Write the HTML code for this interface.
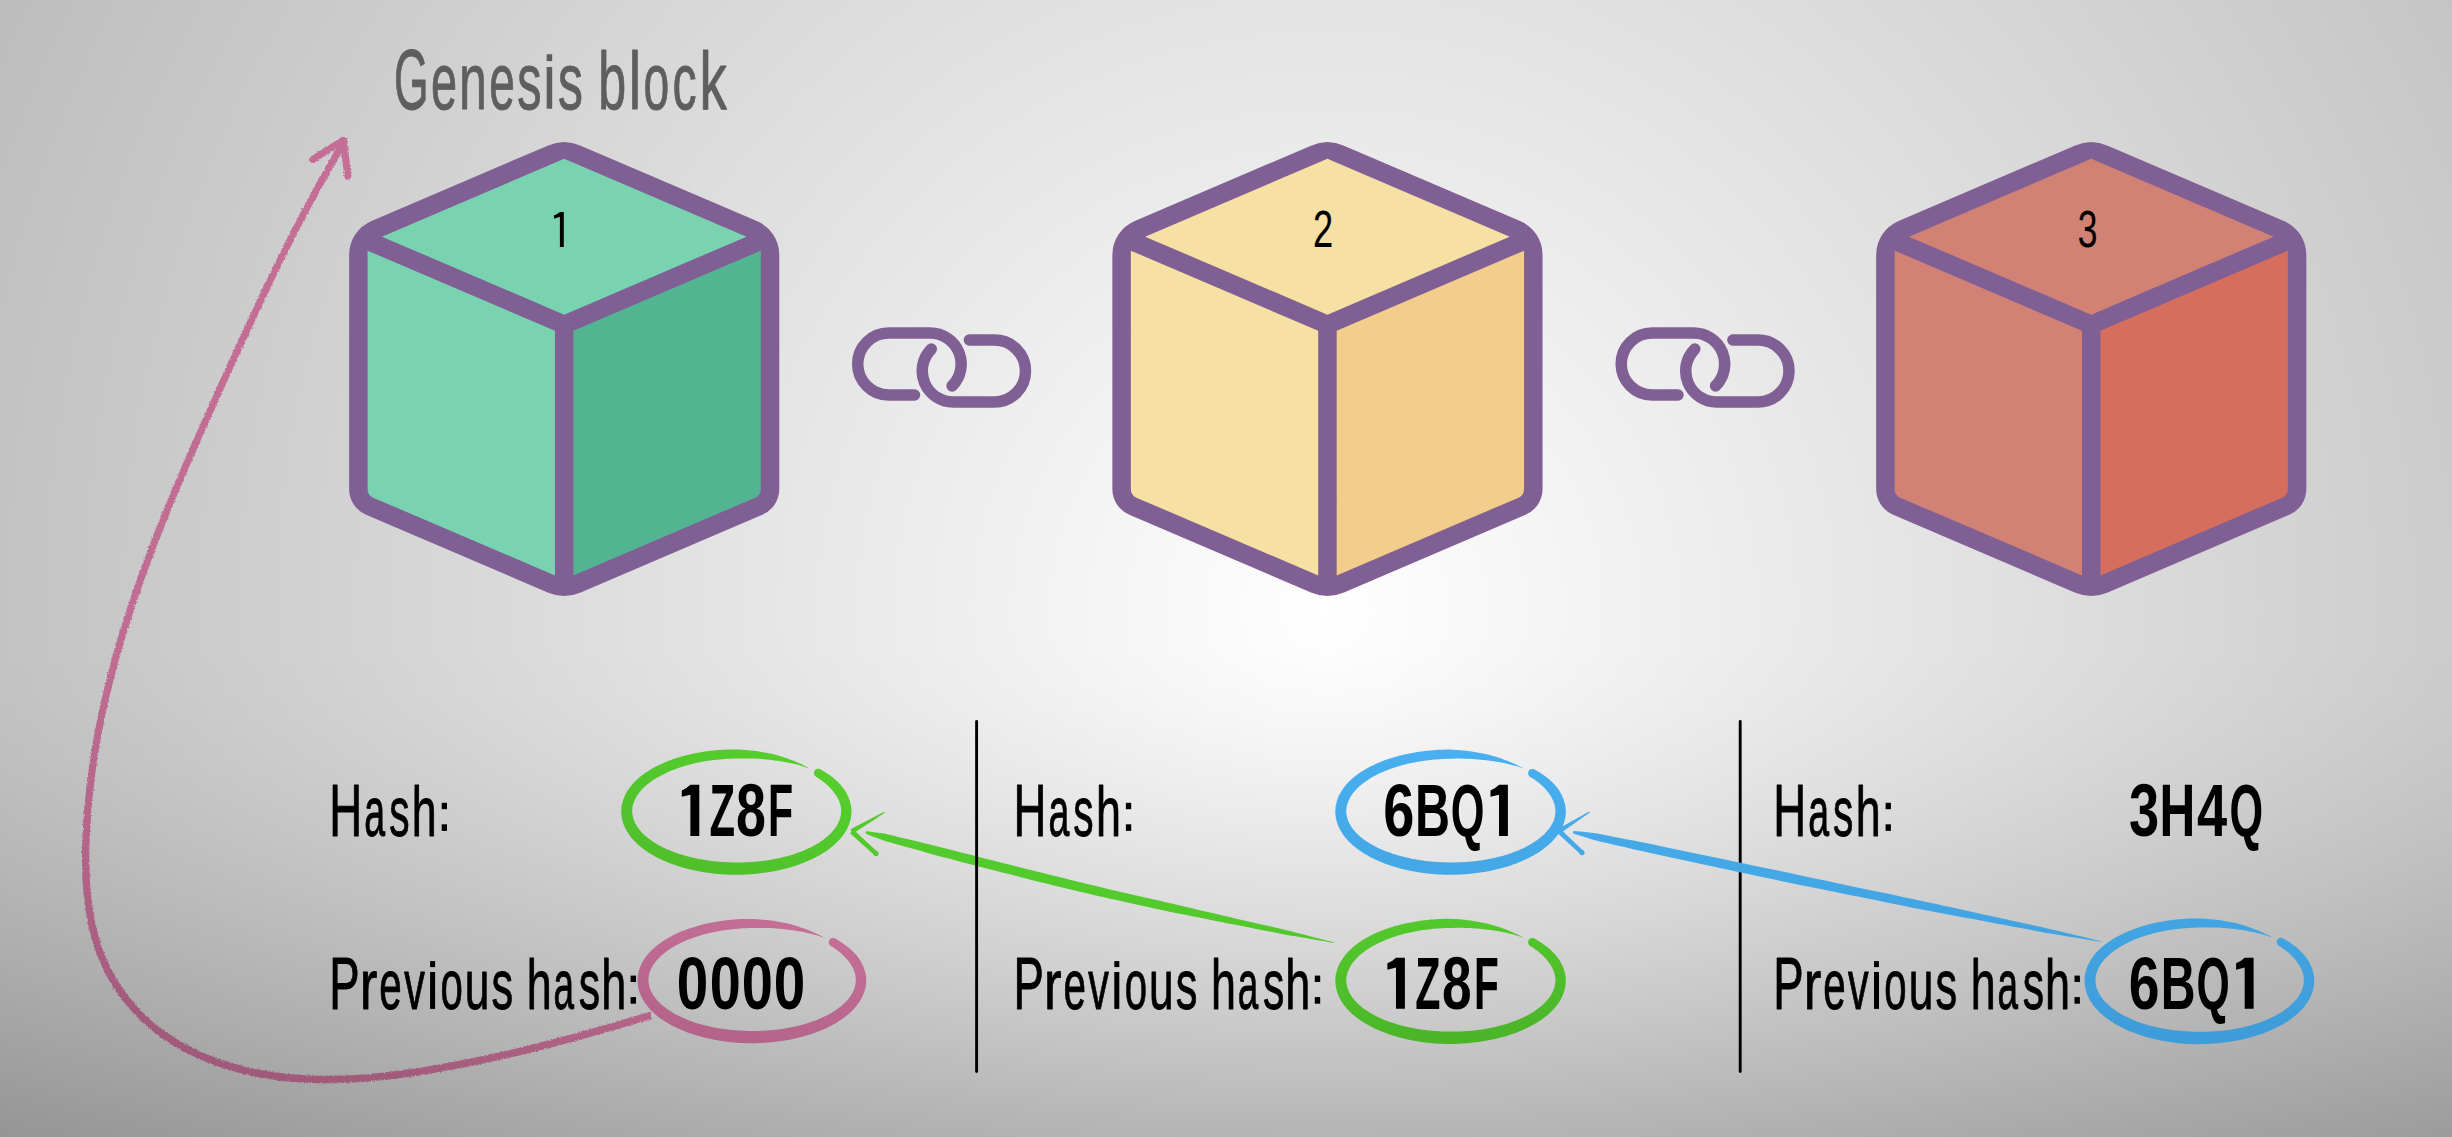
<!DOCTYPE html><html><head><meta charset="utf-8"><style>html,body{margin:0;padding:0;width:2452px;height:1137px;overflow:hidden;background:#c8c8c8}svg{display:block;font-family:"Liberation Sans",sans-serif}</style></head><body>
<svg width="2452" height="1137" viewBox="0 0 2452 1137">
<defs>
<radialGradient id="bg" gradientUnits="userSpaceOnUse" cx="1326.5" cy="608.3" r="1546.25" gradientTransform="translate(1326.5 608.3) scale(1 0.9830) translate(-1326.5 -608.3)"><stop offset="0" stop-color="rgb(255,255,255)"/><stop offset="1" stop-color="rgb(185,185,185)"/></radialGradient>
<linearGradient id="bot" gradientUnits="userSpaceOnUse" x1="0" y1="0" x2="0" y2="1137"><stop offset="0.5651" stop-color="#000" stop-opacity="0.0000"/><stop offset="0.6194" stop-color="#000" stop-opacity="0.0082"/><stop offset="0.6738" stop-color="#000" stop-opacity="0.0244"/><stop offset="0.7282" stop-color="#000" stop-opacity="0.0463"/><stop offset="0.7825" stop-color="#000" stop-opacity="0.0729"/><stop offset="0.8369" stop-color="#000" stop-opacity="0.1037"/><stop offset="0.8913" stop-color="#000" stop-opacity="0.1384"/><stop offset="0.9456" stop-color="#000" stop-opacity="0.1765"/><stop offset="1.0000" stop-color="#000" stop-opacity="0.2180"/></linearGradient>
<linearGradient id="blueg" gradientUnits="userSpaceOnUse" x1="0" y1="750" x2="0" y2="1045"><stop offset="0" stop-color="rgb(72,175,240)"/><stop offset="1" stop-color="rgb(62,156,216)"/></linearGradient>
<filter id="rough" x="-5%" y="-5%" width="110%" height="110%"><feTurbulence type="fractalNoise" baseFrequency="0.7" numOctaves="2" seed="4" result="n"/><feDisplacementMap in="SourceGraphic" in2="n" scale="3.2" xChannelSelector="R" yChannelSelector="G"/></filter>
</defs>
<rect width="2452" height="1137" fill="url(#bg)"/>
<rect width="2452" height="1137" fill="url(#bot)"/>
<path d="M547.69,145.65 A42,42 0 0 1 580.71,145.65 L756.84,220.95 A37,37 0 0 1 779.30,254.97 L779.30,489.02 A28,28 0 0 1 762.31,514.77 L580.71,592.40 A42,42 0 0 1 547.69,592.40 L366.09,514.77 A28,28 0 0 1 349.10,489.02 L349.10,254.97 A37,37 0 0 1 371.56,220.95 Z" fill="#806094"/>
<polygon points="564.20,158.71 746.52,236.65 564.20,314.64 381.88,236.65" fill="#79d3b1"/>
<path d="M367.60,250.66 L554.95,330.76 L554.95,575.39 L373.06,497.63 A9,9 0 0 1 367.60,489.35 Z" fill="#79d3b1"/>
<path d="M760.80,250.66 L573.45,330.76 L573.45,575.39 L755.34,497.63 A9,9 0 0 0 760.80,489.35 Z" fill="#53b492"/>
<path d="M559.90,211.90 L563.80,211.90 L563.80,247.00 L559.90,247.00 L559.90,216.64 L554.20,218.74 L553.80,215.41 Q557.46,214.01 559.90,211.90Z" fill="#000"/>
<path d="M1310.94,145.65 A42,42 0 0 1 1343.96,145.65 L1520.09,220.95 A37,37 0 0 1 1542.55,254.97 L1542.55,489.02 A28,28 0 0 1 1525.56,514.77 L1343.96,592.40 A42,42 0 0 1 1310.94,592.40 L1129.34,514.77 A28,28 0 0 1 1112.35,489.02 L1112.35,254.97 A37,37 0 0 1 1134.81,220.95 Z" fill="#806094"/>
<polygon points="1327.45,158.71 1509.77,236.65 1327.45,314.64 1145.13,236.65" fill="#f7e0a4"/>
<path d="M1130.85,250.66 L1318.20,330.76 L1318.20,575.39 L1136.31,497.63 A9,9 0 0 1 1130.85,489.35 Z" fill="#f7e0a4"/>
<path d="M1524.05,250.66 L1336.70,330.76 L1336.70,575.39 L1518.59,497.63 A9,9 0 0 0 1524.05,489.35 Z" fill="#f3cd8b"/>
<text transform="translate(1313.04,247.20) scale(0.3624,0.5196)" font-size="100" font-weight="400" fill="#000" stroke="#000" stroke-width="0.3" stroke-linejoin="round">2</text>
<path d="M2074.74,145.65 A42,42 0 0 1 2107.76,145.65 L2283.89,220.95 A37,37 0 0 1 2306.35,254.97 L2306.35,489.02 A28,28 0 0 1 2289.36,514.77 L2107.76,592.40 A42,42 0 0 1 2074.74,592.40 L1893.14,514.77 A28,28 0 0 1 1876.15,489.02 L1876.15,254.97 A37,37 0 0 1 1898.61,220.95 Z" fill="#806094"/>
<polygon points="2091.25,158.71 2273.57,236.65 2091.25,314.64 1908.93,236.65" fill="#d28275"/>
<path d="M1894.65,250.66 L2082.00,330.76 L2082.00,575.39 L1900.11,497.63 A9,9 0 0 1 1894.65,489.35 Z" fill="#d28275"/>
<path d="M2287.85,250.66 L2100.50,330.76 L2100.50,575.39 L2282.39,497.63 A9,9 0 0 0 2287.85,489.35 Z" fill="#d66e5e"/>
<text transform="translate(2077.73,247.20) scale(0.3536,0.5196)" font-size="100" font-weight="400" fill="#000" stroke="#000" stroke-width="0.3" stroke-linejoin="round">3</text>
<path d="M914.5,395 L888.7,395 A31,31 0 0 1 888.7,333 L930.2,333 A31,31 0 0 1 952.1,385.9 M969.4,340 L994.5,340 A31,31 0 0 1 994.5,402 L953.2,402 A31,31 0 0 1 931.3,349.1" fill="none" stroke="#806094" stroke-width="11.5" stroke-linecap="round"/>
<path d="M1678.0,395 L1652.2,395 A31,31 0 0 1 1652.2,333 L1693.7,333 A31,31 0 0 1 1715.6,385.9 M1732.9,340 L1758.0,340 A31,31 0 0 1 1758.0,402 L1716.7,402 A31,31 0 0 1 1694.8,349.1" fill="none" stroke="#806094" stroke-width="11.5" stroke-linecap="round"/>
<text transform="translate(393.95,108.70) scale(0.4439,0.8508)" font-size="100" font-weight="400" fill="#5e5e5e" stroke="#5e5e5e" stroke-width="1.2" stroke-linejoin="round">G</text>
<text transform="translate(430.89,108.70) scale(0.4689,0.7948)" font-size="100" font-weight="400" fill="#5e5e5e" stroke="#5e5e5e" stroke-width="1.2" stroke-linejoin="round">e</text>
<text transform="translate(459.01,108.70) scale(0.5017,0.7948)" font-size="100" font-weight="400" fill="#5e5e5e" stroke="#5e5e5e" stroke-width="1.2" stroke-linejoin="round">n</text>
<text transform="translate(489.22,108.70) scale(0.4606,0.7948)" font-size="100" font-weight="400" fill="#5e5e5e" stroke="#5e5e5e" stroke-width="1.2" stroke-linejoin="round">e</text>
<text transform="translate(517.26,108.70) scale(0.4850,0.7948)" font-size="100" font-weight="400" fill="#5e5e5e" stroke="#5e5e5e" stroke-width="1.2" stroke-linejoin="round">s</text>
<text transform="translate(557.93,108.70) scale(0.4983,0.7948)" font-size="100" font-weight="400" fill="#5e5e5e" stroke="#5e5e5e" stroke-width="1.2" stroke-linejoin="round">s</text>
<text transform="translate(598.24,108.70) scale(0.5022,0.8071)" font-size="100" font-weight="400" fill="#5e5e5e" stroke="#5e5e5e" stroke-width="1.2" stroke-linejoin="round">b</text>
<text transform="translate(628.70,108.70) scale(0.5528,0.8071)" font-size="100" font-weight="400" fill="#5e5e5e" stroke="#5e5e5e" stroke-width="1.2" stroke-linejoin="round">l</text>
<text transform="translate(643.61,108.70) scale(0.4623,0.7948)" font-size="100" font-weight="400" fill="#5e5e5e" stroke="#5e5e5e" stroke-width="1.2" stroke-linejoin="round">o</text>
<text transform="translate(672.54,108.70) scale(0.4819,0.7948)" font-size="100" font-weight="400" fill="#5e5e5e" stroke="#5e5e5e" stroke-width="1.2" stroke-linejoin="round">c</text>
<text transform="translate(699.54,108.70) scale(0.5467,0.8071)" font-size="100" font-weight="400" fill="#5e5e5e" stroke="#5e5e5e" stroke-width="1.2" stroke-linejoin="round">k</text>
<rect x="546.70" y="54.20" width="5.50" height="6.90" fill="#5e5e5e"/><rect x="546.70" y="67.00" width="5.50" height="41.70" fill="#5e5e5e"/>
<line x1="976.6" y1="721.4" x2="976.6" y2="1071.6" stroke="#000" stroke-width="2.9" stroke-linecap="round"/>
<line x1="1740.2" y1="721.4" x2="1740.2" y2="1071.6" stroke="#000" stroke-width="2.9" stroke-linecap="round"/>
<text transform="translate(329.24,836.10) scale(0.4557,0.7392)" font-size="100" font-weight="400" fill="#000" stroke="#000" stroke-width="1.3" stroke-linejoin="round">H</text>
<text transform="translate(364.35,836.10) scale(0.3749,0.6985)" font-size="100" font-weight="400" fill="#000" stroke="#000" stroke-width="1.3" stroke-linejoin="round">a</text>
<text transform="translate(389.15,836.10) scale(0.4062,0.6985)" font-size="100" font-weight="400" fill="#000" stroke="#000" stroke-width="1.3" stroke-linejoin="round">s</text>
<text transform="translate(411.75,836.10) scale(0.4480,0.7013)" font-size="100" font-weight="400" fill="#000" stroke="#000" stroke-width="1.3" stroke-linejoin="round">h</text>
<rect x="441.70" y="802.80" width="5.30" height="6.4" fill="#000"/><rect x="441.70" y="824.30" width="5.30" height="6.6" fill="#000"/>
<text transform="translate(329.34,1008.90) scale(0.4546,0.7392)" font-size="100" font-weight="400" fill="#000" stroke="#000" stroke-width="1.3" stroke-linejoin="round">P</text>
<text transform="translate(359.78,1008.90) scale(0.5285,0.7004)" font-size="100" font-weight="400" fill="#000" stroke="#000" stroke-width="1.3" stroke-linejoin="round">r</text>
<text transform="translate(379.25,1008.90) scale(0.4037,0.7004)" font-size="100" font-weight="400" fill="#000" stroke="#000" stroke-width="1.3" stroke-linejoin="round">e</text>
<text transform="translate(404.16,1008.90) scale(0.4115,0.7004)" font-size="100" font-weight="400" fill="#000" stroke="#000" stroke-width="1.3" stroke-linejoin="round">v</text>
<text transform="translate(440.45,1008.90) scale(0.4016,0.7004)" font-size="100" font-weight="400" fill="#000" stroke="#000" stroke-width="1.3" stroke-linejoin="round">o</text>
<text transform="translate(464.81,1008.90) scale(0.4429,0.7004)" font-size="100" font-weight="400" fill="#000" stroke="#000" stroke-width="1.3" stroke-linejoin="round">u</text>
<text transform="translate(491.49,1008.90) scale(0.4329,0.7004)" font-size="100" font-weight="400" fill="#000" stroke="#000" stroke-width="1.3" stroke-linejoin="round">s</text>
<text transform="translate(526.85,1008.90) scale(0.4480,0.7013)" font-size="100" font-weight="400" fill="#000" stroke="#000" stroke-width="1.3" stroke-linejoin="round">h</text>
<text transform="translate(553.57,1008.90) scale(0.3692,0.7004)" font-size="100" font-weight="400" fill="#000" stroke="#000" stroke-width="1.3" stroke-linejoin="round">a</text>
<text transform="translate(578.80,1008.90) scale(0.4262,0.7004)" font-size="100" font-weight="400" fill="#000" stroke="#000" stroke-width="1.3" stroke-linejoin="round">s</text>
<text transform="translate(601.14,1008.90) scale(0.4503,0.7013)" font-size="100" font-weight="400" fill="#000" stroke="#000" stroke-width="1.3" stroke-linejoin="round">h</text>
<rect x="630.60" y="975.60" width="5.40" height="6.4" fill="#000"/><rect x="630.60" y="997.10" width="5.40" height="6.6" fill="#000"/>
<rect x="430.10" y="961.10" width="5.00" height="6.00" fill="#000"/><rect x="430.10" y="972.00" width="5.00" height="36.90" fill="#000"/>
<text transform="translate(1013.44,836.10) scale(0.4557,0.7392)" font-size="100" font-weight="400" fill="#000" stroke="#000" stroke-width="1.3" stroke-linejoin="round">H</text>
<text transform="translate(1048.55,836.10) scale(0.3749,0.6985)" font-size="100" font-weight="400" fill="#000" stroke="#000" stroke-width="1.3" stroke-linejoin="round">a</text>
<text transform="translate(1073.35,836.10) scale(0.4062,0.6985)" font-size="100" font-weight="400" fill="#000" stroke="#000" stroke-width="1.3" stroke-linejoin="round">s</text>
<text transform="translate(1095.95,836.10) scale(0.4480,0.7013)" font-size="100" font-weight="400" fill="#000" stroke="#000" stroke-width="1.3" stroke-linejoin="round">h</text>
<rect x="1125.90" y="802.80" width="5.30" height="6.4" fill="#000"/><rect x="1125.90" y="824.30" width="5.30" height="6.6" fill="#000"/>
<text transform="translate(1013.54,1008.90) scale(0.4546,0.7392)" font-size="100" font-weight="400" fill="#000" stroke="#000" stroke-width="1.3" stroke-linejoin="round">P</text>
<text transform="translate(1043.98,1008.90) scale(0.5285,0.7004)" font-size="100" font-weight="400" fill="#000" stroke="#000" stroke-width="1.3" stroke-linejoin="round">r</text>
<text transform="translate(1063.45,1008.90) scale(0.4037,0.7004)" font-size="100" font-weight="400" fill="#000" stroke="#000" stroke-width="1.3" stroke-linejoin="round">e</text>
<text transform="translate(1088.36,1008.90) scale(0.4115,0.7004)" font-size="100" font-weight="400" fill="#000" stroke="#000" stroke-width="1.3" stroke-linejoin="round">v</text>
<text transform="translate(1124.65,1008.90) scale(0.4016,0.7004)" font-size="100" font-weight="400" fill="#000" stroke="#000" stroke-width="1.3" stroke-linejoin="round">o</text>
<text transform="translate(1149.01,1008.90) scale(0.4429,0.7004)" font-size="100" font-weight="400" fill="#000" stroke="#000" stroke-width="1.3" stroke-linejoin="round">u</text>
<text transform="translate(1175.69,1008.90) scale(0.4329,0.7004)" font-size="100" font-weight="400" fill="#000" stroke="#000" stroke-width="1.3" stroke-linejoin="round">s</text>
<text transform="translate(1211.05,1008.90) scale(0.4480,0.7013)" font-size="100" font-weight="400" fill="#000" stroke="#000" stroke-width="1.3" stroke-linejoin="round">h</text>
<text transform="translate(1237.77,1008.90) scale(0.3692,0.7004)" font-size="100" font-weight="400" fill="#000" stroke="#000" stroke-width="1.3" stroke-linejoin="round">a</text>
<text transform="translate(1263.00,1008.90) scale(0.4262,0.7004)" font-size="100" font-weight="400" fill="#000" stroke="#000" stroke-width="1.3" stroke-linejoin="round">s</text>
<text transform="translate(1285.34,1008.90) scale(0.4503,0.7013)" font-size="100" font-weight="400" fill="#000" stroke="#000" stroke-width="1.3" stroke-linejoin="round">h</text>
<rect x="1314.80" y="975.60" width="5.40" height="6.4" fill="#000"/><rect x="1314.80" y="997.10" width="5.40" height="6.6" fill="#000"/>
<rect x="1114.30" y="961.10" width="5.00" height="6.00" fill="#000"/><rect x="1114.30" y="972.00" width="5.00" height="36.90" fill="#000"/>
<text transform="translate(1773.14,836.10) scale(0.4557,0.7392)" font-size="100" font-weight="400" fill="#000" stroke="#000" stroke-width="1.3" stroke-linejoin="round">H</text>
<text transform="translate(1808.25,836.10) scale(0.3749,0.6985)" font-size="100" font-weight="400" fill="#000" stroke="#000" stroke-width="1.3" stroke-linejoin="round">a</text>
<text transform="translate(1833.05,836.10) scale(0.4062,0.6985)" font-size="100" font-weight="400" fill="#000" stroke="#000" stroke-width="1.3" stroke-linejoin="round">s</text>
<text transform="translate(1855.65,836.10) scale(0.4480,0.7013)" font-size="100" font-weight="400" fill="#000" stroke="#000" stroke-width="1.3" stroke-linejoin="round">h</text>
<rect x="1885.60" y="802.80" width="5.30" height="6.4" fill="#000"/><rect x="1885.60" y="824.30" width="5.30" height="6.6" fill="#000"/>
<text transform="translate(1773.24,1008.90) scale(0.4546,0.7392)" font-size="100" font-weight="400" fill="#000" stroke="#000" stroke-width="1.3" stroke-linejoin="round">P</text>
<text transform="translate(1803.68,1008.90) scale(0.5285,0.7004)" font-size="100" font-weight="400" fill="#000" stroke="#000" stroke-width="1.3" stroke-linejoin="round">r</text>
<text transform="translate(1823.15,1008.90) scale(0.4037,0.7004)" font-size="100" font-weight="400" fill="#000" stroke="#000" stroke-width="1.3" stroke-linejoin="round">e</text>
<text transform="translate(1848.06,1008.90) scale(0.4115,0.7004)" font-size="100" font-weight="400" fill="#000" stroke="#000" stroke-width="1.3" stroke-linejoin="round">v</text>
<text transform="translate(1884.35,1008.90) scale(0.4016,0.7004)" font-size="100" font-weight="400" fill="#000" stroke="#000" stroke-width="1.3" stroke-linejoin="round">o</text>
<text transform="translate(1908.71,1008.90) scale(0.4429,0.7004)" font-size="100" font-weight="400" fill="#000" stroke="#000" stroke-width="1.3" stroke-linejoin="round">u</text>
<text transform="translate(1935.39,1008.90) scale(0.4329,0.7004)" font-size="100" font-weight="400" fill="#000" stroke="#000" stroke-width="1.3" stroke-linejoin="round">s</text>
<text transform="translate(1970.75,1008.90) scale(0.4480,0.7013)" font-size="100" font-weight="400" fill="#000" stroke="#000" stroke-width="1.3" stroke-linejoin="round">h</text>
<text transform="translate(1997.47,1008.90) scale(0.3692,0.7004)" font-size="100" font-weight="400" fill="#000" stroke="#000" stroke-width="1.3" stroke-linejoin="round">a</text>
<text transform="translate(2022.70,1008.90) scale(0.4262,0.7004)" font-size="100" font-weight="400" fill="#000" stroke="#000" stroke-width="1.3" stroke-linejoin="round">s</text>
<text transform="translate(2045.04,1008.90) scale(0.4503,0.7013)" font-size="100" font-weight="400" fill="#000" stroke="#000" stroke-width="1.3" stroke-linejoin="round">h</text>
<rect x="2074.50" y="975.60" width="5.40" height="6.4" fill="#000"/><rect x="2074.50" y="997.10" width="5.40" height="6.6" fill="#000"/>
<rect x="1874.00" y="961.10" width="5.00" height="6.00" fill="#000"/><rect x="1874.00" y="972.00" width="5.00" height="36.90" fill="#000"/>
<path d="M690.38,784.85 L699.30,784.85 L699.30,836.00 L690.38,836.00 L690.38,794.72 L681.80,796.87 L681.80,790.48 Q686.94,788.43 690.38,784.85Z" fill="#000"/>
<text transform="translate(709.45,836.00) scale(0.4181,0.7440)" font-size="100" font-weight="700" fill="#000">Z</text>
<text transform="translate(736.05,836.00) scale(0.5381,0.7440)" font-size="100" font-weight="700" fill="#000">8</text>
<text transform="translate(768.02,836.00) scale(0.4118,0.7440)" font-size="100" font-weight="700" fill="#000">F</text>
<text transform="translate(1383.20,836.00) scale(0.5596,0.7440)" font-size="100" font-weight="700" fill="#000">6</text>
<text transform="translate(1415.02,836.00) scale(0.4852,0.7440)" font-size="100" font-weight="700" fill="#000">B</text>
<text transform="translate(1450.77,836.00) scale(0.4331,0.7440)" font-size="100" font-weight="700" fill="#000">Q</text>
<path d="M1499.03,784.85 L1507.90,784.85 L1507.90,836.00 L1499.03,836.00 L1499.03,794.72 L1490.50,796.87 L1490.50,790.48 Q1495.62,788.43 1499.03,784.85Z" fill="#000"/>
<text transform="translate(2129.08,836.00) scale(0.5427,0.7440)" font-size="100" font-weight="700" fill="#000">3</text>
<text transform="translate(2159.56,836.00) scale(0.4953,0.7440)" font-size="100" font-weight="700" fill="#000">H</text>
<text transform="translate(2197.09,836.00) scale(0.5421,0.7440)" font-size="100" font-weight="700" fill="#000">4</text>
<text transform="translate(2229.47,836.00) scale(0.4317,0.7440)" font-size="100" font-weight="700" fill="#000">Q</text>
<text transform="translate(676.73,1008.80) scale(0.5663,0.7440)" font-size="100" font-weight="700" fill="#000">0</text>
<text transform="translate(709.67,1008.80) scale(0.5579,0.7440)" font-size="100" font-weight="700" fill="#000">0</text>
<text transform="translate(741.66,1008.80) scale(0.5600,0.7440)" font-size="100" font-weight="700" fill="#000">0</text>
<text transform="translate(773.73,1008.80) scale(0.5663,0.7440)" font-size="100" font-weight="700" fill="#000">0</text>
<path d="M1395.98,957.65 L1404.90,957.65 L1404.90,1008.80 L1395.98,1008.80 L1395.98,967.52 L1387.40,969.67 L1387.40,963.28 Q1392.55,961.23 1395.98,957.65Z" fill="#000"/>
<text transform="translate(1415.36,1008.80) scale(0.4127,0.7440)" font-size="100" font-weight="700" fill="#000">Z</text>
<text transform="translate(1441.97,1008.80) scale(0.5320,0.7440)" font-size="100" font-weight="700" fill="#000">8</text>
<text transform="translate(1473.96,1008.80) scale(0.4059,0.7440)" font-size="100" font-weight="700" fill="#000">F</text>
<text transform="translate(2128.82,1008.80) scale(0.5534,0.7440)" font-size="100" font-weight="700" fill="#000">6</text>
<text transform="translate(2160.65,1008.80) scale(0.4820,0.7440)" font-size="100" font-weight="700" fill="#000">B</text>
<text transform="translate(2196.49,1008.80) scale(0.4273,0.7440)" font-size="100" font-weight="700" fill="#000">Q</text>
<path d="M2244.67,957.65 L2253.60,957.65 L2253.60,1008.80 L2244.67,1008.80 L2244.67,967.52 L2236.10,969.67 L2236.10,963.28 Q2241.24,961.23 2244.67,957.65Z" fill="#000"/>
<g style="mix-blend-mode:multiply">
<path d="M815.9,776.6 L817.7,777.7 L819.4,778.9 L821.0,780.0 L822.6,781.2 L824.1,782.4 L825.5,783.5 L826.9,784.7 L828.2,786.0 L829.5,787.2 L830.6,788.4 L831.8,789.7 L832.8,790.9 L833.8,792.2 L834.7,793.4 L835.6,794.6 L836.4,795.9 L837.2,797.1 L837.8,798.3 L838.4,799.6 L839.0,800.8 L839.5,802.0 L839.9,803.3 L840.3,804.5 L840.6,805.7 L840.8,807.0 L841.0,808.2 L841.1,809.4 L841.1,810.6 L841.1,811.8 L841.0,813.1 L840.9,814.3 L840.7,815.5 L840.5,816.7 L840.2,817.9 L839.8,819.1 L839.4,820.4 L838.9,821.6 L838.3,822.8 L837.7,824.0 L837.0,825.2 L836.3,826.5 L835.4,827.7 L834.6,828.9 L833.6,830.1 L832.6,831.3 L831.5,832.5 L830.4,833.7 L829.2,834.8 L827.9,836.0 L826.6,837.1 L825.2,838.3 L823.7,839.4 L822.2,840.5 L820.6,841.6 L819.0,842.7 L817.3,843.7 L815.5,844.7 L813.7,845.7 L811.8,846.7 L809.9,847.7 L808.0,848.6 L805.9,849.5 L803.9,850.4 L801.8,851.3 L799.6,852.1 L797.4,852.9 L795.2,853.7 L792.9,854.5 L790.6,855.2 L788.2,855.9 L785.8,856.5 L783.4,857.1 L780.9,857.7 L778.4,858.3 L775.9,858.8 L773.3,859.3 L770.8,859.7 L768.2,860.2 L765.5,860.5 L762.9,860.9 L760.2,861.2 L757.6,861.5 L754.9,861.7 L752.2,861.9 L749.5,862.1 L746.7,862.3 L744.0,862.3 L741.3,862.4 L738.5,862.4 L735.8,862.4 L733.1,862.4 L730.3,862.3 L727.6,862.2 L724.9,862.0 L722.2,861.9 L719.5,861.7 L716.8,861.4 L714.1,861.2 L711.4,860.9 L708.8,860.5 L706.2,860.2 L703.5,859.8 L701.0,859.3 L698.4,858.9 L695.9,858.3 L693.4,857.8 L690.9,857.2 L688.4,856.6 L686.0,856.0 L683.7,855.3 L681.3,854.6 L679.0,853.9 L676.8,853.1 L674.5,852.3 L672.4,851.5 L670.2,850.6 L668.2,849.8 L666.1,848.9 L664.1,847.9 L662.2,847.0 L660.3,846.0 L658.5,845.0 L656.7,844.0 L655.0,843.0 L653.3,841.9 L651.7,840.8 L650.2,839.7 L648.7,838.6 L647.3,837.5 L645.9,836.3 L644.6,835.2 L643.4,834.0 L642.2,832.9 L641.1,831.7 L640.1,830.5 L639.1,829.3 L638.2,828.1 L637.4,826.9 L636.6,825.7 L635.9,824.5 L635.2,823.3 L634.7,822.1 L634.1,820.8 L633.7,819.6 L633.3,818.4 L633.0,817.2 L632.7,816.0 L632.5,814.8 L632.3,813.6 L632.2,812.4 L632.2,811.2 L632.2,810.0 L632.3,808.8 L632.4,807.6 L632.6,806.4 L632.9,805.2 L633.2,804.0 L633.6,802.8 L634.1,801.5 L634.6,800.3 L635.2,799.1 L635.8,797.9 L636.5,796.6 L637.3,795.4 L638.1,794.2 L639.0,793.0 L640.0,791.8 L641.0,790.5 L642.1,789.3 L643.3,788.1 L644.5,787.0 L645.8,785.8 L647.2,784.6 L648.6,783.5 L650.1,782.3 L651.6,781.2 L653.2,780.1 L654.9,779.0 L656.6,777.9 L658.4,776.9 L660.2,775.9 L662.1,774.9 L664.1,773.9 L666.1,772.9 L668.1,772.0 L670.2,771.1 L672.3,770.2 L674.5,769.4 L676.7,768.5 L679.0,767.7 L681.3,767.0 L683.7,766.2 L686.1,765.5 L688.5,764.9 L690.9,764.2 L693.4,763.6 L695.9,763.0 L698.5,762.5 L701.1,762.0 L703.7,761.5 L706.3,761.1 L708.9,760.7 L711.6,760.3 L714.3,760.0 L717.0,759.7 L719.7,759.4 L722.4,759.2 L725.2,759.0 L727.9,758.8 L730.6,758.7 L733.4,758.6 L736.2,758.6 L738.9,758.5 L741.7,758.4 L744.4,758.4 L747.2,758.4 L749.9,758.4 L752.7,758.5 L755.4,758.6 L758.2,758.8 L760.9,759.0 L763.6,759.2 L766.3,759.5 L768.9,759.8 L771.6,760.1 L774.2,760.4 L776.9,760.7 L779.5,761.1 L782.1,761.5 L784.6,761.9 L787.2,762.4 L789.7,762.9 L792.1,763.4 L794.6,764.0 L797.0,764.6 L799.4,765.3 L801.7,765.9 L804.0,766.7 L806.3,767.4 L808.5,768.2 L808.6,767.9 L806.5,766.8 L804.4,765.7 L802.2,764.6 L800.0,763.6 L797.7,762.6 L795.4,761.6 L793.0,760.6 L790.6,759.7 L788.1,758.8 L785.7,757.9 L783.1,757.1 L780.6,756.3 L778.0,755.5 L775.3,754.8 L772.7,754.1 L770.0,753.5 L767.2,753.0 L764.5,752.5 L761.7,752.0 L758.9,751.5 L756.1,751.1 L753.3,750.8 L750.5,750.4 L747.6,750.2 L744.8,749.9 L741.9,749.7 L739.0,749.5 L736.1,749.4 L733.3,749.4 L730.4,749.4 L727.5,749.5 L724.6,749.7 L721.8,749.8 L718.9,750.0 L716.1,750.2 L713.2,750.5 L710.4,750.8 L707.6,751.2 L704.8,751.6 L702.1,752.0 L699.3,752.5 L696.6,753.0 L693.9,753.5 L691.2,754.1 L688.6,754.7 L686.0,755.3 L683.4,756.0 L680.9,756.7 L678.3,757.5 L675.9,758.3 L673.4,759.1 L671.0,759.9 L668.6,760.8 L666.3,761.7 L664.0,762.7 L661.8,763.7 L659.6,764.7 L657.5,765.7 L655.4,766.8 L653.3,767.9 L651.3,769.1 L649.4,770.2 L647.5,771.4 L645.7,772.6 L643.9,773.9 L642.2,775.2 L640.5,776.5 L638.9,777.8 L637.4,779.2 L635.9,780.6 L634.5,782.0 L633.1,783.4 L631.8,784.9 L630.6,786.4 L629.5,787.9 L628.4,789.5 L627.3,791.0 L626.4,792.6 L625.5,794.2 L624.7,795.9 L624.0,797.5 L623.4,799.2 L622.8,800.9 L622.4,802.5 L622.0,804.3 L621.6,806.0 L621.4,807.7 L621.3,809.4 L621.2,811.2 L621.2,812.9 L621.4,814.7 L621.6,816.4 L621.8,818.1 L622.2,819.9 L622.7,821.6 L623.2,823.3 L623.8,824.9 L624.5,826.6 L625.3,828.2 L626.1,829.9 L627.0,831.5 L628.0,833.1 L629.1,834.6 L630.2,836.2 L631.4,837.7 L632.7,839.2 L634.0,840.7 L635.4,842.1 L636.9,843.5 L638.4,844.9 L640.0,846.3 L641.7,847.6 L643.4,848.9 L645.1,850.2 L647.0,851.5 L648.8,852.7 L650.8,853.9 L652.8,855.1 L654.8,856.2 L656.9,857.4 L659.0,858.4 L661.2,859.5 L663.4,860.5 L665.7,861.5 L668.0,862.5 L670.4,863.4 L672.8,864.3 L675.2,865.1 L677.7,866.0 L680.2,866.8 L682.8,867.5 L685.4,868.2 L688.0,868.9 L690.6,869.6 L693.3,870.2 L696.0,870.8 L698.7,871.3 L701.5,871.8 L704.3,872.3 L707.1,872.7 L709.9,873.1 L712.7,873.5 L715.6,873.8 L718.4,874.0 L721.3,874.3 L724.2,874.5 L727.1,874.6 L730.0,874.7 L732.9,874.8 L735.8,874.8 L738.7,874.7 L741.6,874.7 L744.5,874.6 L747.3,874.4 L750.2,874.2 L753.1,874.0 L756.0,873.7 L758.8,873.4 L761.7,873.1 L764.5,872.7 L767.3,872.3 L770.1,871.9 L772.8,871.4 L775.6,870.9 L778.3,870.3 L781.0,869.7 L783.6,869.1 L786.2,868.4 L788.8,867.7 L791.4,866.9 L793.9,866.2 L796.4,865.4 L798.9,864.5 L801.3,863.6 L803.7,862.7 L806.0,861.8 L808.3,860.8 L810.6,859.8 L812.8,858.8 L814.9,857.7 L817.0,856.6 L819.1,855.5 L821.1,854.3 L823.0,853.1 L824.9,851.9 L826.8,850.7 L828.6,849.4 L830.3,848.1 L832.0,846.8 L833.6,845.4 L835.2,844.0 L836.6,842.6 L838.1,841.2 L839.4,839.8 L840.7,838.3 L842.0,836.8 L843.1,835.3 L844.2,833.7 L845.2,832.1 L846.2,830.6 L847.1,828.9 L847.9,827.3 L848.6,825.7 L849.2,824.0 L849.8,822.3 L850.3,820.6 L850.7,818.9 L851.0,817.2 L851.2,815.5 L851.4,813.8 L851.5,812.1 L851.5,810.3 L851.4,808.6 L851.2,806.9 L850.9,805.2 L850.5,803.5 L850.1,801.8 L849.6,800.1 L849.0,798.5 L848.3,796.8 L847.6,795.2 L846.8,793.6 L845.9,792.0 L844.9,790.4 L843.8,788.9 L842.7,787.4 L841.5,785.9 L840.3,784.4 L838.9,783.0 L837.5,781.6 L836.0,780.3 L834.5,778.9 L832.9,777.6 L831.3,776.3 L829.6,775.1 L827.8,773.9 L826.0,772.7 L824.1,771.5 L822.2,770.4 L820.3,769.3Z" fill="rgb(96,234,51)" />
<circle cx="818.10" cy="772.96" r="4.25" fill="rgb(96,234,51)"/>
<path d="M830.8,945.9 L832.6,947.1 L834.3,948.2 L835.9,949.3 L837.4,950.5 L838.9,951.6 L840.4,952.8 L841.7,954.0 L843.0,955.2 L844.3,956.4 L845.4,957.6 L846.5,958.9 L847.6,960.1 L848.6,961.3 L849.5,962.6 L850.3,963.8 L851.2,965.0 L851.9,966.2 L852.6,967.5 L853.2,968.7 L853.7,969.9 L854.2,971.1 L854.6,972.4 L855.0,973.6 L855.3,974.8 L855.5,976.0 L855.7,977.2 L855.8,978.4 L855.8,979.6 L855.8,980.8 L855.7,982.0 L855.6,983.2 L855.4,984.4 L855.2,985.6 L854.9,986.8 L854.5,988.1 L854.1,989.3 L853.6,990.5 L853.0,991.7 L852.4,992.9 L851.7,994.1 L851.0,995.3 L850.2,996.5 L849.3,997.7 L848.4,998.9 L847.4,1000.1 L846.3,1001.2 L845.2,1002.4 L844.0,1003.6 L842.7,1004.7 L841.4,1005.9 L840.0,1007.0 L838.5,1008.1 L837.0,1009.2 L835.5,1010.3 L833.8,1011.3 L832.2,1012.4 L830.4,1013.4 L828.6,1014.4 L826.8,1015.4 L824.9,1016.3 L822.9,1017.3 L820.9,1018.2 L818.9,1019.0 L816.8,1019.9 L814.6,1020.7 L812.5,1021.5 L810.2,1022.3 L808.0,1023.0 L805.7,1023.7 L803.3,1024.4 L800.9,1025.1 L798.5,1025.7 L796.1,1026.3 L793.6,1026.8 L791.1,1027.3 L788.6,1027.8 L786.0,1028.3 L783.4,1028.7 L780.8,1029.1 L778.2,1029.4 L775.6,1029.7 L772.9,1030.0 L770.2,1030.2 L767.6,1030.5 L764.9,1030.6 L762.2,1030.8 L759.4,1030.9 L756.7,1030.9 L754.0,1030.9 L751.3,1030.9 L748.6,1030.9 L745.9,1030.8 L743.2,1030.7 L740.5,1030.5 L737.8,1030.4 L735.1,1030.2 L732.4,1030.0 L729.8,1029.7 L727.1,1029.4 L724.5,1029.1 L721.9,1028.7 L719.3,1028.3 L716.7,1027.9 L714.2,1027.4 L711.7,1026.9 L709.2,1026.3 L706.7,1025.8 L704.3,1025.2 L701.9,1024.5 L699.6,1023.9 L697.2,1023.2 L694.9,1022.4 L692.7,1021.7 L690.5,1020.9 L688.3,1020.1 L686.2,1019.2 L684.2,1018.4 L682.1,1017.5 L680.2,1016.6 L678.3,1015.6 L676.4,1014.7 L674.6,1013.7 L672.8,1012.7 L671.1,1011.6 L669.5,1010.6 L667.9,1009.5 L666.3,1008.4 L664.9,1007.3 L663.5,1006.2 L662.1,1005.1 L660.8,1003.9 L659.6,1002.8 L658.4,1001.6 L657.4,1000.5 L656.3,999.3 L655.4,998.1 L654.5,996.9 L653.6,995.7 L652.9,994.5 L652.2,993.3 L651.5,992.1 L650.9,990.9 L650.4,989.7 L650.0,988.5 L649.6,987.4 L649.2,986.2 L649.0,985.0 L648.8,983.8 L648.6,982.6 L648.5,981.4 L648.5,980.2 L648.5,979.0 L648.6,977.8 L648.7,976.7 L648.9,975.5 L649.2,974.3 L649.5,973.1 L649.9,971.9 L650.3,970.6 L650.9,969.4 L651.4,968.2 L652.1,967.0 L652.8,965.8 L653.5,964.6 L654.4,963.4 L655.3,962.2 L656.2,961.0 L657.2,959.8 L658.3,958.6 L659.5,957.4 L660.7,956.2 L662.0,955.0 L663.3,953.9 L664.8,952.7 L666.2,951.6 L667.8,950.5 L669.4,949.4 L671.0,948.3 L672.7,947.3 L674.5,946.2 L676.3,945.2 L678.2,944.2 L680.1,943.2 L682.1,942.3 L684.1,941.4 L686.2,940.5 L688.3,939.6 L690.5,938.8 L692.7,937.9 L694.9,937.2 L697.2,936.4 L699.6,935.7 L701.9,935.0 L704.3,934.3 L706.8,933.7 L709.3,933.1 L711.8,932.5 L714.3,932.0 L716.8,931.5 L719.4,931.0 L722.0,930.6 L724.6,930.2 L727.3,929.8 L730.0,929.5 L732.6,929.2 L735.3,928.9 L738.0,928.7 L740.7,928.5 L743.5,928.3 L746.2,928.2 L748.9,928.1 L751.7,928.1 L754.4,928.0 L757.1,927.9 L759.9,927.9 L762.6,927.9 L765.3,927.9 L768.1,928.0 L770.8,928.1 L773.5,928.3 L776.2,928.5 L778.9,928.7 L781.6,929.0 L784.2,929.2 L786.8,929.6 L789.5,929.9 L792.1,930.2 L794.7,930.6 L797.2,931.0 L799.8,931.4 L802.3,931.8 L804.8,932.3 L807.2,932.9 L809.6,933.4 L812.0,934.0 L814.4,934.7 L816.7,935.3 L819.0,936.1 L821.2,936.8 L823.4,937.6 L823.6,937.3 L821.5,936.2 L819.4,935.1 L817.2,934.0 L815.0,933.0 L812.7,932.0 L810.4,931.0 L808.1,930.1 L805.7,929.1 L803.3,928.2 L800.8,927.4 L798.3,926.5 L795.7,925.7 L793.2,925.0 L790.6,924.2 L787.9,923.6 L785.2,923.0 L782.5,922.4 L779.8,921.9 L777.0,921.5 L774.3,921.0 L771.5,920.6 L768.7,920.3 L765.9,919.9 L763.0,919.7 L760.2,919.4 L757.4,919.2 L754.5,919.0 L751.6,918.9 L748.8,918.9 L745.9,918.9 L743.1,919.0 L740.2,919.1 L737.4,919.3 L734.5,919.5 L731.7,919.7 L728.9,920.0 L726.1,920.3 L723.3,920.7 L720.6,921.0 L717.8,921.5 L715.1,921.9 L712.4,922.4 L709.7,923.0 L707.1,923.5 L704.4,924.1 L701.8,924.8 L699.3,925.4 L696.8,926.2 L694.3,926.9 L691.8,927.7 L689.4,928.5 L687.0,929.3 L684.6,930.2 L682.3,931.1 L680.1,932.1 L677.8,933.0 L675.7,934.1 L673.5,935.1 L671.5,936.2 L669.4,937.3 L667.4,938.4 L665.5,939.5 L663.6,940.7 L661.8,941.9 L660.1,943.2 L658.3,944.5 L656.7,945.8 L655.1,947.1 L653.6,948.4 L652.1,949.8 L650.7,951.2 L649.3,952.7 L648.1,954.1 L646.8,955.6 L645.7,957.1 L644.6,958.6 L643.6,960.2 L642.7,961.8 L641.8,963.3 L641.0,965.0 L640.3,966.6 L639.7,968.3 L639.1,969.9 L638.6,971.6 L638.3,973.3 L637.9,975.0 L637.7,976.7 L637.6,978.5 L637.5,980.2 L637.5,981.9 L637.7,983.6 L637.9,985.4 L638.1,987.1 L638.5,988.8 L639.0,990.5 L639.5,992.2 L640.1,993.8 L640.8,995.5 L641.5,997.1 L642.4,998.7 L643.3,1000.3 L644.3,1001.9 L645.3,1003.5 L646.5,1005.0 L647.7,1006.5 L648.9,1008.0 L650.2,1009.4 L651.6,1010.9 L653.1,1012.3 L654.6,1013.7 L656.2,1015.0 L657.8,1016.4 L659.5,1017.7 L661.3,1018.9 L663.1,1020.2 L665.0,1021.4 L666.9,1022.6 L668.9,1023.8 L670.9,1024.9 L672.9,1026.0 L675.1,1027.1 L677.2,1028.1 L679.5,1029.1 L681.7,1030.1 L684.0,1031.1 L686.4,1032.0 L688.7,1032.9 L691.2,1033.7 L693.6,1034.5 L696.1,1035.3 L698.7,1036.1 L701.2,1036.8 L703.8,1037.5 L706.5,1038.1 L709.1,1038.7 L711.8,1039.3 L714.5,1039.8 L717.3,1040.3 L720.0,1040.8 L722.8,1041.2 L725.6,1041.6 L728.4,1042.0 L731.2,1042.3 L734.1,1042.6 L736.9,1042.8 L739.8,1043.0 L742.6,1043.1 L745.5,1043.2 L748.4,1043.3 L751.3,1043.3 L754.1,1043.2 L757.0,1043.2 L759.9,1043.1 L762.8,1042.9 L765.6,1042.7 L768.5,1042.5 L771.3,1042.3 L774.2,1042.0 L777.0,1041.6 L779.8,1041.2 L782.6,1040.8 L785.3,1040.4 L788.1,1039.9 L790.8,1039.4 L793.5,1038.8 L796.1,1038.2 L798.8,1037.6 L801.4,1036.9 L804.0,1036.2 L806.5,1035.5 L809.0,1034.7 L811.5,1033.9 L813.9,1033.1 L816.4,1032.2 L818.7,1031.3 L821.0,1030.4 L823.3,1029.4 L825.5,1028.4 L827.7,1027.4 L829.9,1026.3 L832.0,1025.2 L834.0,1024.1 L836.0,1023.0 L837.9,1021.8 L839.8,1020.6 L841.7,1019.4 L843.4,1018.1 L845.1,1016.8 L846.8,1015.5 L848.4,1014.2 L850.0,1012.8 L851.4,1011.4 L852.9,1010.0 L854.2,1008.5 L855.5,1007.1 L856.7,1005.6 L857.9,1004.1 L859.0,1002.5 L860.0,1001.0 L860.9,999.4 L861.8,997.8 L862.6,996.2 L863.3,994.6 L863.9,992.9 L864.5,991.3 L865.0,989.6 L865.4,987.9 L865.7,986.2 L865.9,984.5 L866.1,982.8 L866.2,981.1 L866.2,979.3 L866.1,977.6 L865.9,975.9 L865.6,974.2 L865.3,972.5 L864.8,970.9 L864.3,969.2 L863.7,967.6 L863.1,965.9 L862.3,964.3 L861.5,962.7 L860.6,961.1 L859.6,959.6 L858.6,958.1 L857.5,956.6 L856.3,955.1 L855.0,953.7 L853.7,952.2 L852.3,950.9 L850.8,949.5 L849.3,948.2 L847.7,946.9 L846.1,945.6 L844.4,944.4 L842.7,943.2 L840.9,942.0 L839.0,940.8 L837.1,939.7 L835.2,938.6Z" fill="rgb(244,136,186)" />
<circle cx="833.00" cy="942.29" r="4.25" fill="rgb(244,136,186)"/>
<path d="M1530.2,946.0 L1532.0,947.1 L1533.7,948.2 L1535.3,949.4 L1536.9,950.5 L1538.4,951.7 L1539.8,952.9 L1541.2,954.1 L1542.5,955.3 L1543.8,956.5 L1544.9,957.8 L1546.1,959.0 L1547.1,960.2 L1548.1,961.5 L1549.0,962.7 L1549.9,964.0 L1550.7,965.2 L1551.5,966.4 L1552.1,967.7 L1552.7,968.9 L1553.3,970.1 L1553.8,971.4 L1554.2,972.6 L1554.6,973.8 L1554.9,975.1 L1555.1,976.3 L1555.3,977.5 L1555.4,978.7 L1555.4,979.9 L1555.4,981.1 L1555.3,982.4 L1555.2,983.6 L1555.0,984.8 L1554.8,986.0 L1554.5,987.2 L1554.1,988.4 L1553.7,989.6 L1553.2,990.9 L1552.6,992.1 L1552.0,993.3 L1551.3,994.5 L1550.6,995.7 L1549.7,996.9 L1548.9,998.1 L1547.9,999.3 L1546.9,1000.5 L1545.8,1001.7 L1544.7,1002.9 L1543.5,1004.1 L1542.2,1005.2 L1540.8,1006.4 L1539.5,1007.5 L1538.0,1008.6 L1536.5,1009.7 L1534.9,1010.8 L1533.2,1011.9 L1531.5,1012.9 L1529.8,1014.0 L1528.0,1015.0 L1526.1,1016.0 L1524.2,1016.9 L1522.2,1017.9 L1520.2,1018.8 L1518.2,1019.7 L1516.0,1020.5 L1513.9,1021.3 L1511.7,1022.1 L1509.4,1022.9 L1507.1,1023.7 L1504.8,1024.4 L1502.4,1025.1 L1500.0,1025.7 L1497.6,1026.3 L1495.1,1026.9 L1492.7,1027.5 L1490.1,1028.0 L1487.6,1028.5 L1485.0,1028.9 L1482.4,1029.4 L1479.8,1029.8 L1477.1,1030.1 L1474.5,1030.4 L1471.8,1030.7 L1469.1,1030.9 L1466.4,1031.1 L1463.7,1031.3 L1460.9,1031.5 L1458.2,1031.5 L1455.5,1031.6 L1452.7,1031.6 L1450.0,1031.6 L1447.3,1031.6 L1444.5,1031.5 L1441.8,1031.4 L1439.1,1031.2 L1436.4,1031.1 L1433.7,1030.9 L1431.0,1030.6 L1428.3,1030.4 L1425.6,1030.1 L1423.0,1029.7 L1420.3,1029.4 L1417.7,1029.0 L1415.1,1028.5 L1412.6,1028.1 L1410.0,1027.5 L1407.5,1027.0 L1405.0,1026.4 L1402.6,1025.8 L1400.2,1025.2 L1397.8,1024.5 L1395.5,1023.8 L1393.2,1023.1 L1390.9,1022.3 L1388.7,1021.5 L1386.5,1020.7 L1384.4,1019.9 L1382.3,1019.0 L1380.2,1018.1 L1378.3,1017.2 L1376.3,1016.2 L1374.4,1015.2 L1372.6,1014.2 L1370.8,1013.2 L1369.1,1012.2 L1367.5,1011.1 L1365.8,1010.1 L1364.3,1009.0 L1362.8,1007.9 L1361.4,1006.7 L1360.0,1005.6 L1358.7,1004.4 L1357.5,1003.3 L1356.3,1002.1 L1355.2,1000.9 L1354.2,999.7 L1353.2,998.5 L1352.3,997.4 L1351.5,996.1 L1350.7,994.9 L1350.0,993.7 L1349.3,992.5 L1348.8,991.3 L1348.2,990.1 L1347.8,988.9 L1347.4,987.7 L1347.1,986.5 L1346.8,985.3 L1346.6,984.1 L1346.4,982.9 L1346.3,981.7 L1346.3,980.5 L1346.3,979.3 L1346.4,978.1 L1346.5,976.9 L1346.7,975.7 L1347.0,974.5 L1347.3,973.3 L1347.7,972.1 L1348.2,970.9 L1348.7,969.6 L1349.3,968.4 L1349.9,967.2 L1350.6,966.0 L1351.4,964.8 L1352.2,963.5 L1353.1,962.3 L1354.1,961.1 L1355.1,959.9 L1356.2,958.7 L1357.4,957.5 L1358.6,956.3 L1359.9,955.1 L1361.3,954.0 L1362.7,952.8 L1364.2,951.7 L1365.7,950.6 L1367.4,949.5 L1369.0,948.4 L1370.7,947.3 L1372.5,946.3 L1374.4,945.2 L1376.3,944.2 L1378.2,943.3 L1380.2,942.3 L1382.2,941.4 L1384.3,940.5 L1386.5,939.6 L1388.7,938.7 L1390.9,937.9 L1393.2,937.1 L1395.5,936.4 L1397.8,935.6 L1400.2,934.9 L1402.6,934.2 L1405.1,933.6 L1407.6,933.0 L1410.1,932.4 L1412.7,931.9 L1415.2,931.4 L1417.8,930.9 L1420.5,930.5 L1423.1,930.1 L1425.8,929.7 L1428.5,929.4 L1431.2,929.1 L1433.9,928.8 L1436.6,928.6 L1439.3,928.4 L1442.1,928.2 L1444.8,928.1 L1447.6,928.0 L1450.4,928.0 L1453.1,927.9 L1455.9,927.8 L1458.6,927.8 L1461.4,927.8 L1464.2,927.9 L1466.9,927.9 L1469.6,928.0 L1472.4,928.2 L1475.1,928.4 L1477.8,928.6 L1480.5,928.9 L1483.2,929.2 L1485.8,929.5 L1488.5,929.8 L1491.1,930.1 L1493.7,930.5 L1496.3,930.9 L1498.9,931.3 L1501.4,931.8 L1503.9,932.3 L1506.4,932.8 L1508.8,933.4 L1511.2,934.0 L1513.6,934.6 L1516.0,935.3 L1518.3,936.0 L1520.5,936.8 L1522.7,937.6 L1522.9,937.3 L1520.8,936.2 L1518.6,935.1 L1516.5,934.0 L1514.2,933.0 L1511.9,932.0 L1509.6,931.0 L1507.2,930.0 L1504.8,929.1 L1502.4,928.2 L1499.9,927.3 L1497.4,926.5 L1494.8,925.7 L1492.2,924.9 L1489.6,924.2 L1486.9,923.5 L1484.2,922.9 L1481.5,922.4 L1478.7,921.9 L1475.9,921.4 L1473.2,920.9 L1470.3,920.5 L1467.5,920.2 L1464.7,919.8 L1461.8,919.6 L1459.0,919.3 L1456.1,919.1 L1453.2,918.9 L1450.3,918.8 L1447.5,918.8 L1444.6,918.8 L1441.7,918.9 L1438.8,919.0 L1436.0,919.2 L1433.1,919.4 L1430.3,919.6 L1427.4,919.9 L1424.6,920.2 L1421.8,920.6 L1419.0,921.0 L1416.2,921.4 L1413.5,921.9 L1410.8,922.4 L1408.1,922.9 L1405.4,923.5 L1402.8,924.1 L1400.1,924.7 L1397.6,925.4 L1395.0,926.1 L1392.5,926.9 L1390.0,927.6 L1387.6,928.5 L1385.2,929.3 L1382.8,930.2 L1380.5,931.1 L1378.2,932.1 L1375.9,933.0 L1373.8,934.1 L1371.6,935.1 L1369.5,936.2 L1367.5,937.3 L1365.5,938.4 L1363.5,939.6 L1361.6,940.8 L1359.8,942.0 L1358.0,943.3 L1356.3,944.5 L1354.6,945.8 L1353.0,947.2 L1351.5,948.5 L1350.0,949.9 L1348.6,951.3 L1347.2,952.8 L1345.9,954.2 L1344.7,955.7 L1343.6,957.3 L1342.5,958.8 L1341.5,960.4 L1340.5,961.9 L1339.6,963.5 L1338.8,965.2 L1338.1,966.8 L1337.5,968.5 L1336.9,970.2 L1336.5,971.9 L1336.1,973.6 L1335.7,975.3 L1335.5,977.0 L1335.4,978.7 L1335.3,980.5 L1335.3,982.2 L1335.5,984.0 L1335.7,985.7 L1335.9,987.4 L1336.3,989.1 L1336.8,990.8 L1337.3,992.5 L1337.9,994.2 L1338.6,995.9 L1339.4,997.5 L1340.2,999.2 L1341.1,1000.8 L1342.1,1002.3 L1343.2,1003.9 L1344.3,1005.4 L1345.5,1007.0 L1346.8,1008.5 L1348.1,1009.9 L1349.5,1011.4 L1351.0,1012.8 L1352.5,1014.2 L1354.1,1015.5 L1355.8,1016.9 L1357.5,1018.2 L1359.3,1019.5 L1361.1,1020.7 L1363.0,1022.0 L1364.9,1023.2 L1366.9,1024.3 L1368.9,1025.5 L1371.0,1026.6 L1373.2,1027.7 L1375.3,1028.7 L1377.6,1029.7 L1379.9,1030.7 L1382.2,1031.7 L1384.5,1032.6 L1386.9,1033.5 L1389.4,1034.4 L1391.9,1035.2 L1394.4,1036.0 L1396.9,1036.7 L1399.5,1037.4 L1402.2,1038.1 L1404.8,1038.8 L1407.5,1039.4 L1410.2,1040.0 L1412.9,1040.5 L1415.7,1041.0 L1418.5,1041.5 L1421.2,1041.9 L1424.1,1042.3 L1426.9,1042.7 L1429.7,1043.0 L1432.6,1043.3 L1435.5,1043.5 L1438.4,1043.7 L1441.3,1043.8 L1444.2,1043.9 L1447.1,1044.0 L1450.0,1044.0 L1452.9,1043.9 L1455.8,1043.9 L1458.7,1043.8 L1461.6,1043.6 L1464.4,1043.4 L1467.3,1043.2 L1470.2,1042.9 L1473.0,1042.6 L1475.9,1042.3 L1478.7,1041.9 L1481.5,1041.5 L1484.3,1041.1 L1487.0,1040.6 L1489.8,1040.1 L1492.5,1039.5 L1495.2,1038.9 L1497.9,1038.3 L1500.5,1037.6 L1503.1,1036.9 L1505.7,1036.2 L1508.2,1035.4 L1510.7,1034.6 L1513.1,1033.7 L1515.6,1032.9 L1517.9,1031.9 L1520.3,1031.0 L1522.6,1030.0 L1524.8,1029.0 L1527.0,1028.0 L1529.2,1026.9 L1531.3,1025.8 L1533.4,1024.7 L1535.4,1023.5 L1537.3,1022.4 L1539.2,1021.1 L1541.1,1019.9 L1542.9,1018.6 L1544.6,1017.3 L1546.3,1016.0 L1547.9,1014.7 L1549.4,1013.3 L1550.9,1011.9 L1552.4,1010.5 L1553.7,1009.0 L1555.0,1007.5 L1556.2,1006.0 L1557.4,1004.5 L1558.5,1003.0 L1559.5,1001.4 L1560.5,999.8 L1561.4,998.2 L1562.2,996.6 L1562.9,995.0 L1563.5,993.3 L1564.1,991.6 L1564.6,989.9 L1565.0,988.2 L1565.3,986.5 L1565.5,984.8 L1565.7,983.1 L1565.8,981.4 L1565.8,979.6 L1565.7,977.9 L1565.5,976.2 L1565.2,974.5 L1564.8,972.8 L1564.4,971.1 L1563.9,969.4 L1563.3,967.8 L1562.6,966.1 L1561.9,964.5 L1561.0,962.9 L1560.1,961.3 L1559.2,959.8 L1558.1,958.2 L1557.0,956.7 L1555.8,955.2 L1554.5,953.8 L1553.2,952.4 L1551.8,951.0 L1550.3,949.6 L1548.8,948.3 L1547.2,947.0 L1545.6,945.7 L1543.8,944.4 L1542.1,943.2 L1540.3,942.0 L1538.4,940.9 L1536.5,939.7 L1534.5,938.7Z" fill="rgb(96,234,51)" />
<circle cx="1532.37" cy="942.33" r="4.25" fill="rgb(96,234,51)"/>
<path d="M1334.3,942.5 L1331.1,941.6 L1327.7,940.7 L1324.0,939.8 L1320.0,938.7 L1315.7,937.7 L1311.2,936.5 L1306.5,935.3 L1301.5,934.0 L1296.3,932.7 L1291.0,931.3 L1285.4,929.9 L1279.6,928.6 L1273.7,927.2 L1267.6,925.8 L1261.3,924.4 L1255.0,922.9 L1248.5,921.4 L1241.9,919.9 L1235.2,918.4 L1228.5,916.8 L1221.6,915.2 L1214.7,913.6 L1207.8,912.0 L1200.8,910.4 L1193.8,908.7 L1186.8,907.1 L1179.8,905.4 L1172.8,903.8 L1165.8,902.2 L1158.9,900.6 L1152.0,899.0 L1145.1,897.5 L1138.3,895.9 L1131.7,894.4 L1125.1,892.9 L1118.6,891.4 L1112.2,889.9 L1106.0,888.4 L1099.9,887.0 L1094.0,885.6 L1088.1,884.2 L1082.1,882.7 L1076.0,881.2 L1069.7,879.7 L1063.4,878.1 L1057.1,876.5 L1050.6,874.9 L1044.1,873.3 L1037.6,871.7 L1031.0,870.1 L1024.4,868.4 L1017.7,866.8 L1011.1,865.1 L1004.5,863.4 L997.9,861.8 L991.3,860.1 L984.7,858.4 L978.2,856.8 L971.8,855.1 L965.4,853.5 L959.1,851.9 L952.9,850.3 L946.7,848.7 L940.7,847.2 L934.8,845.7 L929.0,844.3 L923.3,842.9 L917.8,841.6 L912.4,840.3 L907.2,839.1 L902.2,837.9 L897.3,836.7 L892.7,835.6 L888.2,834.5 L884.0,833.6 L879.9,833.1 L876.0,832.5 L872.4,832.1 L869.1,831.6 L866.0,831.2 L865.4,833.6 L868.3,834.7 L871.4,835.9 L874.8,837.2 L878.4,838.6 L882.3,840.1 L886.4,841.4 L890.8,842.6 L895.4,843.9 L900.2,845.3 L905.2,846.7 L910.4,848.1 L915.7,849.6 L921.2,851.1 L926.8,852.7 L932.5,854.3 L938.4,855.9 L944.5,857.5 L950.6,859.1 L956.8,860.7 L963.1,862.4 L969.5,864.0 L975.9,865.7 L982.4,867.4 L989.0,869.1 L995.6,870.8 L1002.2,872.4 L1008.8,874.1 L1015.4,875.8 L1022.1,877.5 L1028.7,879.2 L1035.3,880.9 L1041.8,882.5 L1048.3,884.1 L1054.8,885.7 L1061.2,887.3 L1067.5,888.8 L1073.8,890.3 L1079.9,891.7 L1086.0,893.1 L1091.9,894.5 L1097.9,895.9 L1104.0,897.3 L1110.2,898.7 L1116.6,900.1 L1123.1,901.6 L1129.7,903.0 L1136.4,904.5 L1143.2,906.0 L1150.1,907.5 L1157.0,909.0 L1164.0,910.5 L1171.0,912.0 L1178.0,913.4 L1185.1,914.8 L1192.2,916.2 L1199.2,917.6 L1206.3,919.0 L1213.3,920.4 L1220.2,921.8 L1227.1,923.2 L1233.9,924.5 L1240.6,925.8 L1247.3,927.1 L1253.8,928.4 L1260.2,929.7 L1266.5,930.9 L1272.6,932.1 L1278.6,933.3 L1284.4,934.4 L1290.1,935.4 L1295.6,936.3 L1300.8,937.2 L1305.9,938.1 L1310.7,938.9 L1315.3,939.7 L1319.6,940.4 L1323.7,941.1 L1327.5,941.8 L1330.9,942.4 L1334.1,942.9Z" fill="rgb(96,234,51)" />
<path d="M884.2,811.8 L850.4,829.2 L853.0,833.6 L884.8,812.8Z" fill="rgb(96,234,51)" />
<path d="M850.0,833.2 L874.5,855.3 L877.5,851.9 L853.4,829.6Z" fill="rgb(96,234,51)" />
<circle cx="876.00" cy="853.60" r="2.6" fill="rgb(96,234,51)"/>
<g filter="url(#rough)">
<path d="M650.1,1011.6 L646.5,1012.7 L642.9,1013.8 L639.3,1014.8 L635.7,1015.9 L632.2,1017.0 L628.6,1018.0 L625.0,1019.1 L621.4,1020.1 L617.9,1021.2 L614.3,1022.2 L610.8,1023.3 L607.2,1024.3 L603.7,1025.3 L600.1,1026.3 L596.6,1027.3 L593.1,1028.3 L589.5,1029.3 L586.0,1030.3 L582.5,1031.3 L579.0,1032.3 L575.4,1033.2 L571.9,1034.2 L568.4,1035.2 L564.9,1036.1 L561.3,1037.0 L557.8,1038.0 L554.3,1038.9 L550.8,1039.8 L547.3,1040.7 L543.7,1041.6 L540.2,1042.5 L536.7,1043.4 L533.2,1044.3 L529.6,1045.2 L526.1,1046.1 L522.6,1046.9 L519.1,1047.8 L515.5,1048.6 L512.0,1049.4 L508.4,1050.3 L504.9,1051.1 L501.3,1051.9 L497.8,1052.7 L494.2,1053.5 L490.7,1054.3 L487.1,1055.0 L483.5,1055.8 L480.0,1056.6 L476.4,1057.3 L472.8,1058.1 L469.2,1058.8 L465.6,1059.5 L462.0,1060.2 L458.4,1060.9 L454.8,1061.6 L451.1,1062.3 L447.5,1063.0 L443.8,1063.6 L440.2,1064.3 L436.5,1064.9 L432.9,1065.6 L429.2,1066.2 L425.5,1066.8 L421.8,1067.4 L418.1,1068.0 L414.4,1068.5 L410.7,1069.1 L407.0,1069.6 L403.3,1070.1 L399.6,1070.6 L395.9,1071.1 L392.2,1071.6 L388.4,1072.0 L384.7,1072.4 L381.0,1072.8 L377.3,1073.2 L373.5,1073.5 L369.8,1073.9 L366.1,1074.2 L362.3,1074.5 L358.6,1074.7 L354.8,1074.9 L351.1,1075.2 L347.4,1075.3 L343.6,1075.5 L339.9,1075.6 L336.2,1075.7 L332.5,1075.8 L328.7,1075.8 L325.0,1075.8 L321.3,1075.8 L317.6,1075.7 L313.9,1075.6 L310.1,1075.5 L306.4,1075.3 L302.7,1075.1 L299.0,1074.8 L295.4,1074.6 L291.7,1074.3 L288.0,1073.9 L284.3,1073.5 L280.7,1073.1 L277.0,1072.6 L273.3,1072.1 L269.7,1071.5 L266.1,1070.9 L262.4,1070.3 L258.8,1069.6 L255.2,1068.9 L251.6,1068.1 L248.0,1067.3 L244.4,1066.5 L240.9,1065.5 L237.3,1064.6 L233.8,1063.6 L230.2,1062.5 L226.7,1061.4 L223.2,1060.3 L219.7,1059.1 L216.3,1057.8 L212.8,1056.5 L209.4,1055.2 L206.0,1053.8 L202.7,1052.4 L199.3,1050.9 L196.0,1049.3 L192.8,1047.8 L189.5,1046.1 L186.3,1044.4 L183.1,1042.7 L180.0,1040.9 L176.9,1039.0 L173.9,1037.2 L170.9,1035.2 L167.9,1033.2 L165.0,1031.2 L162.1,1029.1 L159.3,1026.9 L156.5,1024.7 L153.8,1022.4 L151.1,1020.1 L148.5,1017.8 L145.9,1015.4 L143.4,1012.9 L140.9,1010.4 L138.5,1007.8 L136.1,1005.2 L133.8,1002.6 L131.6,999.9 L129.4,997.2 L127.2,994.4 L125.1,991.6 L123.1,988.7 L121.2,985.8 L119.3,982.9 L117.4,979.9 L115.6,976.9 L113.9,973.8 L112.2,970.8 L110.6,967.6 L109.1,964.5 L107.6,961.3 L106.2,958.1 L104.9,954.9 L103.6,951.6 L102.4,948.3 L101.3,945.0 L100.2,941.6 L99.2,938.2 L98.2,934.8 L97.3,931.4 L96.5,927.9 L95.7,924.4 L94.9,920.9 L94.2,917.4 L93.6,913.8 L93.0,910.3 L92.5,906.7 L92.0,903.1 L91.5,899.4 L91.1,895.8 L90.8,892.2 L90.5,888.5 L90.2,884.8 L89.9,881.1 L89.8,877.4 L89.6,873.7 L89.5,870.0 L89.4,866.3 L89.3,862.6 L89.3,858.8 L89.3,855.1 L89.4,851.3 L89.4,847.6 L89.5,843.8 L89.7,840.1 L89.8,836.3 L90.0,832.6 L90.2,828.9 L90.4,825.1 L90.6,821.4 L90.9,817.7 L91.1,813.9 L91.4,810.2 L91.7,806.5 L92.1,802.8 L92.4,799.1 L92.8,795.4 L93.2,791.7 L93.6,788.0 L94.0,784.3 L94.5,780.6 L94.9,777.0 L95.4,773.3 L95.9,769.6 L96.4,765.9 L97.0,762.3 L97.5,758.6 L98.1,755.0 L98.7,751.3 L99.3,747.7 L99.9,744.0 L100.5,740.4 L101.2,736.8 L101.8,733.2 L102.5,729.5 L103.2,725.9 L104.0,722.3 L104.7,718.7 L105.4,715.1 L106.2,711.5 L107.0,707.9 L107.8,704.3 L108.6,700.7 L109.4,697.1 L110.3,693.5 L111.1,689.9 L112.0,686.4 L112.9,682.8 L113.8,679.2 L114.7,675.7 L115.6,672.1 L116.6,668.5 L117.5,665.0 L118.5,661.4 L119.5,657.9 L120.5,654.3 L121.5,650.8 L122.5,647.3 L123.5,643.7 L124.6,640.2 L125.6,636.7 L126.7,633.1 L127.8,629.6 L128.9,626.1 L130.0,622.6 L131.1,619.1 L132.2,615.6 L133.3,612.1 L134.5,608.6 L135.6,605.1 L136.8,601.6 L138.0,598.1 L139.2,594.6 L140.4,591.1 L141.6,587.6 L142.8,584.1 L144.0,580.7 L145.3,577.2 L146.5,573.7 L147.8,570.2 L149.1,566.8 L150.3,563.3 L151.6,559.8 L152.9,556.4 L154.2,552.9 L155.5,549.5 L156.9,546.0 L158.2,542.6 L159.5,539.1 L160.9,535.7 L162.2,532.2 L163.6,528.8 L164.9,525.4 L166.3,521.9 L167.7,518.5 L169.1,515.1 L170.5,511.6 L171.9,508.2 L173.3,504.8 L174.7,501.4 L176.1,497.9 L177.5,494.5 L178.9,491.1 L180.4,487.7 L181.8,484.3 L183.3,480.9 L184.7,477.5 L186.2,474.1 L187.6,470.7 L189.1,467.2 L190.5,463.8 L192.0,460.5 L193.5,457.1 L195.0,453.7 L196.5,450.3 L197.9,446.9 L199.4,443.5 L200.9,440.1 L202.4,436.7 L203.9,433.3 L205.4,429.9 L206.9,426.6 L208.4,423.2 L209.9,419.8 L211.4,416.4 L213.0,413.1 L214.5,409.7 L216.0,406.3 L217.5,402.9 L219.0,399.6 L220.6,396.2 L222.1,392.8 L223.6,389.5 L225.1,386.1 L226.6,382.7 L228.2,379.4 L229.7,376.0 L231.2,372.7 L232.7,369.3 L234.3,365.9 L235.8,362.6 L237.3,359.2 L238.9,355.9 L240.4,352.5 L241.9,349.2 L243.5,345.8 L245.0,342.5 L246.5,339.1 L248.1,335.8 L249.6,332.5 L251.2,329.1 L252.7,325.8 L254.3,322.4 L255.8,319.1 L257.4,315.8 L258.9,312.4 L260.5,309.1 L262.1,305.8 L263.6,302.5 L265.2,299.1 L266.8,295.8 L268.4,292.5 L270.0,289.2 L271.5,285.9 L273.1,282.6 L274.7,279.3 L276.3,275.9 L277.9,272.6 L279.6,269.3 L281.2,266.0 L282.8,262.7 L284.4,259.4 L286.1,256.1 L287.7,252.8 L289.3,249.6 L291.0,246.3 L292.6,243.0 L294.3,239.7 L296.0,236.4 L297.7,233.1 L299.3,229.9 L301.0,226.6 L302.7,223.3 L304.4,220.1 L306.1,216.8 L307.9,213.5 L309.6,210.3 L311.3,207.0 L313.0,203.8 L314.8,200.5 L316.6,197.2 L318.3,194.0 L320.1,190.8 L321.9,187.5 L323.7,184.3 L325.5,181.0 L327.3,177.8 L329.1,174.6 L330.9,171.3 L332.7,168.1 L334.6,164.9 L336.4,161.7 L338.3,158.5 L340.2,155.3 L342.0,152.0 L343.9,148.8 L345.8,145.6 L347.7,142.4 L341.7,138.8 L339.8,142.0 L337.9,145.3 L336.0,148.5 L334.1,151.7 L332.2,154.9 L330.4,158.2 L328.5,161.4 L326.6,164.6 L324.8,167.9 L323.0,171.1 L321.1,174.4 L319.3,177.6 L317.5,180.9 L315.7,184.1 L313.9,187.4 L312.1,190.6 L310.4,193.9 L308.6,197.2 L306.9,200.4 L305.1,203.7 L303.4,207.0 L301.6,210.2 L299.9,213.5 L298.2,216.8 L296.5,220.1 L294.8,223.4 L293.1,226.6 L291.4,229.9 L289.7,233.2 L288.0,236.5 L286.4,239.8 L284.7,243.1 L283.0,246.4 L281.4,249.7 L279.7,253.0 L278.1,256.3 L276.5,259.6 L274.8,262.9 L273.2,266.2 L271.6,269.5 L270.0,272.9 L268.4,276.2 L266.8,279.5 L265.2,282.8 L263.6,286.1 L262.0,289.5 L260.4,292.8 L258.8,296.1 L257.3,299.4 L255.7,302.8 L254.1,306.1 L252.5,309.4 L251.0,312.8 L249.4,316.1 L247.9,319.5 L246.3,322.8 L244.7,326.1 L243.2,329.5 L241.7,332.8 L240.1,336.2 L238.6,339.5 L237.0,342.9 L235.5,346.2 L234.0,349.6 L232.4,352.9 L230.9,356.3 L229.4,359.6 L227.8,363.0 L226.3,366.4 L224.8,369.7 L223.2,373.1 L221.7,376.4 L220.2,379.8 L218.7,383.2 L217.1,386.5 L215.6,389.9 L214.1,393.3 L212.6,396.6 L211.0,400.0 L209.5,403.4 L208.0,406.8 L206.5,410.1 L205.0,413.5 L203.5,416.9 L201.9,420.3 L200.4,423.7 L198.9,427.1 L197.4,430.4 L195.9,433.8 L194.4,437.2 L192.9,440.6 L191.4,444.0 L189.9,447.4 L188.4,450.8 L187.0,454.2 L185.5,457.6 L184.0,461.0 L182.5,464.4 L181.1,467.8 L179.6,471.3 L178.1,474.7 L176.7,478.1 L175.2,481.5 L173.8,484.9 L172.4,488.3 L170.9,491.8 L169.5,495.2 L168.1,498.6 L166.7,502.1 L165.3,505.5 L163.8,508.9 L162.4,512.4 L161.1,515.8 L159.7,519.3 L158.3,522.7 L156.9,526.2 L155.6,529.6 L154.2,533.1 L152.9,536.5 L151.5,540.0 L150.2,543.5 L148.9,546.9 L147.5,550.4 L146.2,553.9 L144.9,557.3 L143.6,560.8 L142.3,564.3 L141.1,567.8 L139.8,571.3 L138.5,574.8 L137.3,578.3 L136.1,581.7 L134.8,585.2 L133.6,588.8 L132.4,592.3 L131.2,595.8 L130.0,599.3 L128.8,602.8 L127.7,606.3 L126.5,609.8 L125.4,613.4 L124.2,616.9 L123.1,620.4 L122.0,624.0 L120.9,627.5 L119.8,631.0 L118.7,634.6 L117.7,638.1 L116.6,641.7 L115.6,645.3 L114.5,648.8 L113.5,652.4 L112.5,656.0 L111.5,659.5 L110.6,663.1 L109.6,666.7 L108.7,670.3 L107.7,673.9 L106.8,677.4 L105.9,681.0 L105.0,684.6 L104.1,688.2 L103.3,691.9 L102.4,695.5 L101.6,699.1 L100.7,702.7 L99.9,706.3 L99.1,710.0 L98.4,713.6 L97.6,717.2 L96.9,720.9 L96.1,724.5 L95.4,728.2 L94.7,731.8 L94.1,735.5 L93.4,739.1 L92.7,742.8 L92.1,746.5 L91.5,750.2 L90.9,753.8 L90.3,757.5 L89.8,761.2 L89.2,764.9 L88.7,768.6 L88.2,772.3 L87.7,776.0 L87.2,779.7 L86.8,783.5 L86.4,787.2 L85.9,790.9 L85.6,794.6 L85.2,798.4 L84.8,802.1 L84.5,805.9 L84.2,809.6 L83.9,813.4 L83.6,817.1 L83.3,820.9 L83.1,824.7 L82.9,828.5 L82.7,832.2 L82.5,836.0 L82.4,839.8 L82.2,843.6 L82.1,847.4 L82.1,851.2 L82.0,855.0 L82.0,858.8 L82.0,862.6 L82.1,866.4 L82.1,870.2 L82.3,874.0 L82.4,877.8 L82.6,881.5 L82.9,885.3 L83.1,889.1 L83.5,892.8 L83.8,896.6 L84.2,900.3 L84.7,904.0 L85.2,907.7 L85.7,911.4 L86.3,915.1 L87.0,918.7 L87.7,922.4 L88.5,926.0 L89.3,929.6 L90.2,933.2 L91.1,936.7 L92.1,940.3 L93.2,943.8 L94.3,947.3 L95.5,950.8 L96.7,954.2 L98.0,957.6 L99.4,961.0 L100.9,964.3 L102.4,967.7 L104.0,970.9 L105.7,974.2 L107.4,977.4 L109.2,980.6 L111.1,983.7 L113.0,986.8 L115.0,989.9 L117.0,992.9 L119.1,995.9 L121.3,998.8 L123.5,1001.7 L125.8,1004.6 L128.2,1007.4 L130.6,1010.2 L133.0,1012.9 L135.6,1015.6 L138.1,1018.2 L140.8,1020.7 L143.4,1023.3 L146.2,1025.7 L149.0,1028.1 L151.8,1030.5 L154.7,1032.8 L157.6,1035.0 L160.6,1037.2 L163.7,1039.4 L166.8,1041.4 L169.9,1043.5 L173.0,1045.4 L176.2,1047.3 L179.5,1049.2 L182.8,1051.0 L186.1,1052.8 L189.4,1054.5 L192.8,1056.1 L196.2,1057.7 L199.7,1059.2 L203.1,1060.7 L206.6,1062.2 L210.1,1063.5 L213.7,1064.9 L217.2,1066.2 L220.8,1067.4 L224.4,1068.6 L228.0,1069.7 L231.7,1070.8 L235.3,1071.8 L239.0,1072.8 L242.6,1073.7 L246.3,1074.6 L250.0,1075.5 L253.7,1076.2 L257.4,1077.0 L261.1,1077.7 L264.8,1078.3 L268.5,1079.0 L272.3,1079.5 L276.0,1080.0 L279.7,1080.5 L283.5,1081.0 L287.2,1081.4 L291.0,1081.7 L294.8,1082.0 L298.5,1082.3 L302.3,1082.6 L306.1,1082.8 L309.8,1082.9 L313.6,1083.1 L317.4,1083.2 L321.2,1083.3 L325.0,1083.3 L328.8,1083.3 L332.5,1083.3 L336.3,1083.2 L340.1,1083.1 L343.9,1083.0 L347.7,1082.8 L351.5,1082.6 L355.3,1082.4 L359.1,1082.2 L362.9,1081.9 L366.6,1081.7 L370.4,1081.3 L374.2,1081.0 L378.0,1080.6 L381.8,1080.3 L385.5,1079.9 L389.3,1079.4 L393.1,1079.0 L396.8,1078.5 L400.6,1078.0 L404.3,1077.5 L408.1,1077.0 L411.8,1076.5 L415.6,1075.9 L419.3,1075.4 L423.0,1074.8 L426.7,1074.2 L430.4,1073.6 L434.1,1073.0 L437.8,1072.3 L441.5,1071.7 L445.2,1071.0 L448.8,1070.3 L452.5,1069.7 L456.1,1069.0 L459.8,1068.3 L463.4,1067.6 L467.1,1066.9 L470.7,1066.1 L474.3,1065.4 L477.9,1064.7 L481.5,1063.9 L485.1,1063.1 L488.7,1062.4 L492.3,1061.6 L495.9,1060.8 L499.4,1060.0 L503.0,1059.2 L506.6,1058.4 L510.1,1057.6 L513.7,1056.7 L517.3,1055.9 L520.8,1055.1 L524.4,1054.2 L527.9,1053.3 L531.4,1052.5 L535.0,1051.6 L538.5,1050.7 L542.1,1049.8 L545.6,1048.9 L549.1,1048.0 L552.7,1047.1 L556.2,1046.2 L559.7,1045.2 L563.3,1044.3 L566.8,1043.3 L570.3,1042.4 L573.9,1041.4 L577.4,1040.5 L580.9,1039.5 L584.5,1038.5 L588.0,1037.5 L591.6,1036.5 L595.1,1035.5 L598.6,1034.5 L602.2,1033.5 L605.7,1032.5 L609.3,1031.5 L612.9,1030.5 L616.4,1029.4 L620.0,1028.4 L623.6,1027.3 L627.1,1026.3 L630.7,1025.2 L634.3,1024.2 L637.9,1023.1 L641.5,1022.0 L645.1,1021.0 L648.7,1019.9 L652.3,1018.8Z" fill="rgb(244,136,186)" />
<path d="M314.5,162.6 L345.3,143.2 L341.5,137.2 L310.7,156.6Z" fill="rgb(244,136,186)" />
<path d="M339.9,140.6 L344.3,176.7 L351.3,175.9 L346.9,139.8Z" fill="rgb(244,136,186)" />
<circle cx="343.4" cy="140.2" r="3.5" fill="rgb(244,136,186)"/><circle cx="312.6" cy="159.6" r="3.5" fill="rgb(244,136,186)"/><circle cx="347.8" cy="176.3" r="3.5" fill="rgb(244,136,186)"/>
</g>
</g>
<path d="M1530.2,776.8 L1532.0,777.9 L1533.7,779.0 L1535.3,780.2 L1536.9,781.3 L1538.4,782.5 L1539.8,783.7 L1541.2,784.9 L1542.5,786.1 L1543.8,787.3 L1544.9,788.6 L1546.1,789.8 L1547.1,791.0 L1548.1,792.3 L1549.0,793.5 L1549.9,794.8 L1550.7,796.0 L1551.5,797.2 L1552.1,798.5 L1552.7,799.7 L1553.3,800.9 L1553.8,802.2 L1554.2,803.4 L1554.6,804.6 L1554.9,805.9 L1555.1,807.1 L1555.3,808.3 L1555.4,809.5 L1555.4,810.7 L1555.4,811.9 L1555.3,813.2 L1555.2,814.4 L1555.0,815.6 L1554.8,816.8 L1554.5,818.0 L1554.1,819.2 L1553.7,820.4 L1553.2,821.7 L1552.6,822.9 L1552.0,824.1 L1551.3,825.3 L1550.6,826.5 L1549.7,827.7 L1548.9,828.9 L1547.9,830.1 L1546.9,831.3 L1545.8,832.5 L1544.7,833.7 L1543.5,834.9 L1542.2,836.0 L1540.8,837.2 L1539.5,838.3 L1538.0,839.4 L1536.5,840.5 L1534.9,841.6 L1533.2,842.7 L1531.5,843.7 L1529.8,844.8 L1528.0,845.8 L1526.1,846.8 L1524.2,847.7 L1522.2,848.7 L1520.2,849.6 L1518.2,850.5 L1516.0,851.3 L1513.9,852.1 L1511.7,852.9 L1509.4,853.7 L1507.1,854.5 L1504.8,855.2 L1502.4,855.9 L1500.0,856.5 L1497.6,857.1 L1495.1,857.7 L1492.7,858.3 L1490.1,858.8 L1487.6,859.3 L1485.0,859.7 L1482.4,860.2 L1479.8,860.6 L1477.1,860.9 L1474.5,861.2 L1471.8,861.5 L1469.1,861.7 L1466.4,861.9 L1463.7,862.1 L1460.9,862.3 L1458.2,862.3 L1455.5,862.4 L1452.7,862.4 L1450.0,862.4 L1447.3,862.4 L1444.5,862.3 L1441.8,862.2 L1439.1,862.0 L1436.4,861.9 L1433.7,861.7 L1431.0,861.4 L1428.3,861.2 L1425.6,860.9 L1423.0,860.5 L1420.3,860.2 L1417.7,859.8 L1415.1,859.3 L1412.6,858.9 L1410.0,858.3 L1407.5,857.8 L1405.0,857.2 L1402.6,856.6 L1400.2,856.0 L1397.8,855.3 L1395.5,854.6 L1393.2,853.9 L1390.9,853.1 L1388.7,852.3 L1386.5,851.5 L1384.4,850.7 L1382.3,849.8 L1380.2,848.9 L1378.3,848.0 L1376.3,847.0 L1374.4,846.0 L1372.6,845.0 L1370.8,844.0 L1369.1,843.0 L1367.5,841.9 L1365.8,840.9 L1364.3,839.8 L1362.8,838.7 L1361.4,837.5 L1360.0,836.4 L1358.7,835.2 L1357.5,834.1 L1356.3,832.9 L1355.2,831.7 L1354.2,830.5 L1353.2,829.3 L1352.3,828.2 L1351.5,826.9 L1350.7,825.7 L1350.0,824.5 L1349.3,823.3 L1348.8,822.1 L1348.2,820.9 L1347.8,819.7 L1347.4,818.5 L1347.1,817.3 L1346.8,816.1 L1346.6,814.9 L1346.4,813.7 L1346.3,812.5 L1346.3,811.3 L1346.3,810.1 L1346.4,808.9 L1346.5,807.7 L1346.7,806.5 L1347.0,805.3 L1347.3,804.1 L1347.7,802.9 L1348.2,801.7 L1348.7,800.4 L1349.3,799.2 L1349.9,798.0 L1350.6,796.8 L1351.4,795.6 L1352.2,794.3 L1353.1,793.1 L1354.1,791.9 L1355.1,790.7 L1356.2,789.5 L1357.4,788.3 L1358.6,787.1 L1359.9,785.9 L1361.3,784.8 L1362.7,783.6 L1364.2,782.5 L1365.7,781.4 L1367.4,780.3 L1369.0,779.2 L1370.7,778.1 L1372.5,777.1 L1374.4,776.0 L1376.3,775.0 L1378.2,774.1 L1380.2,773.1 L1382.2,772.2 L1384.3,771.3 L1386.5,770.4 L1388.7,769.5 L1390.9,768.7 L1393.2,767.9 L1395.5,767.2 L1397.8,766.4 L1400.2,765.7 L1402.6,765.0 L1405.1,764.4 L1407.6,763.8 L1410.1,763.2 L1412.7,762.7 L1415.2,762.2 L1417.8,761.7 L1420.5,761.3 L1423.1,760.9 L1425.8,760.5 L1428.5,760.2 L1431.2,759.9 L1433.9,759.6 L1436.6,759.4 L1439.3,759.2 L1442.1,759.0 L1444.8,758.9 L1447.6,758.8 L1450.4,758.8 L1453.1,758.7 L1455.9,758.6 L1458.6,758.6 L1461.4,758.6 L1464.2,758.7 L1466.9,758.7 L1469.6,758.8 L1472.4,759.0 L1475.1,759.2 L1477.8,759.4 L1480.5,759.7 L1483.2,760.0 L1485.8,760.3 L1488.5,760.6 L1491.1,760.9 L1493.7,761.3 L1496.3,761.7 L1498.9,762.1 L1501.4,762.6 L1503.9,763.1 L1506.4,763.6 L1508.8,764.2 L1511.2,764.8 L1513.6,765.4 L1516.0,766.1 L1518.3,766.8 L1520.5,767.6 L1522.7,768.4 L1522.9,768.1 L1520.8,767.0 L1518.6,765.9 L1516.5,764.8 L1514.2,763.8 L1511.9,762.8 L1509.6,761.8 L1507.2,760.8 L1504.8,759.9 L1502.4,759.0 L1499.9,758.1 L1497.4,757.3 L1494.8,756.5 L1492.2,755.7 L1489.6,755.0 L1486.9,754.3 L1484.2,753.7 L1481.5,753.2 L1478.7,752.7 L1475.9,752.2 L1473.2,751.7 L1470.3,751.3 L1467.5,751.0 L1464.7,750.6 L1461.8,750.4 L1459.0,750.1 L1456.1,749.9 L1453.2,749.7 L1450.3,749.6 L1447.5,749.6 L1444.6,749.6 L1441.7,749.7 L1438.8,749.8 L1436.0,750.0 L1433.1,750.2 L1430.3,750.4 L1427.4,750.7 L1424.6,751.0 L1421.8,751.4 L1419.0,751.8 L1416.2,752.2 L1413.5,752.7 L1410.8,753.2 L1408.1,753.7 L1405.4,754.3 L1402.8,754.9 L1400.1,755.5 L1397.6,756.2 L1395.0,756.9 L1392.5,757.7 L1390.0,758.4 L1387.6,759.3 L1385.2,760.1 L1382.8,761.0 L1380.5,761.9 L1378.2,762.9 L1375.9,763.8 L1373.8,764.9 L1371.6,765.9 L1369.5,767.0 L1367.5,768.1 L1365.5,769.2 L1363.5,770.4 L1361.6,771.6 L1359.8,772.8 L1358.0,774.1 L1356.3,775.3 L1354.6,776.6 L1353.0,778.0 L1351.5,779.3 L1350.0,780.7 L1348.6,782.1 L1347.2,783.6 L1345.9,785.0 L1344.7,786.5 L1343.6,788.1 L1342.5,789.6 L1341.5,791.2 L1340.5,792.7 L1339.6,794.3 L1338.8,796.0 L1338.1,797.6 L1337.5,799.3 L1336.9,801.0 L1336.5,802.7 L1336.1,804.4 L1335.7,806.1 L1335.5,807.8 L1335.4,809.5 L1335.3,811.3 L1335.3,813.0 L1335.5,814.8 L1335.7,816.5 L1335.9,818.2 L1336.3,819.9 L1336.8,821.6 L1337.3,823.3 L1337.9,825.0 L1338.6,826.7 L1339.4,828.3 L1340.2,830.0 L1341.1,831.6 L1342.1,833.1 L1343.2,834.7 L1344.3,836.2 L1345.5,837.8 L1346.8,839.3 L1348.1,840.7 L1349.5,842.2 L1351.0,843.6 L1352.5,845.0 L1354.1,846.3 L1355.8,847.7 L1357.5,849.0 L1359.3,850.3 L1361.1,851.5 L1363.0,852.8 L1364.9,854.0 L1366.9,855.1 L1368.9,856.3 L1371.0,857.4 L1373.2,858.5 L1375.3,859.5 L1377.6,860.5 L1379.9,861.5 L1382.2,862.5 L1384.5,863.4 L1386.9,864.3 L1389.4,865.2 L1391.9,866.0 L1394.4,866.8 L1396.9,867.5 L1399.5,868.2 L1402.2,868.9 L1404.8,869.6 L1407.5,870.2 L1410.2,870.8 L1412.9,871.3 L1415.7,871.8 L1418.5,872.3 L1421.2,872.7 L1424.1,873.1 L1426.9,873.5 L1429.7,873.8 L1432.6,874.1 L1435.5,874.3 L1438.4,874.5 L1441.3,874.6 L1444.2,874.7 L1447.1,874.8 L1450.0,874.8 L1452.9,874.7 L1455.8,874.7 L1458.7,874.6 L1461.6,874.4 L1464.4,874.2 L1467.3,874.0 L1470.2,873.7 L1473.0,873.4 L1475.9,873.1 L1478.7,872.7 L1481.5,872.3 L1484.3,871.9 L1487.0,871.4 L1489.8,870.9 L1492.5,870.3 L1495.2,869.7 L1497.9,869.1 L1500.5,868.4 L1503.1,867.7 L1505.7,867.0 L1508.2,866.2 L1510.7,865.4 L1513.1,864.5 L1515.6,863.7 L1517.9,862.7 L1520.3,861.8 L1522.6,860.8 L1524.8,859.8 L1527.0,858.8 L1529.2,857.7 L1531.3,856.6 L1533.4,855.5 L1535.4,854.3 L1537.3,853.2 L1539.2,851.9 L1541.1,850.7 L1542.9,849.4 L1544.6,848.1 L1546.3,846.8 L1547.9,845.5 L1549.4,844.1 L1550.9,842.7 L1552.4,841.3 L1553.7,839.8 L1555.0,838.3 L1556.2,836.8 L1557.4,835.3 L1558.5,833.8 L1559.5,832.2 L1560.5,830.6 L1561.4,829.0 L1562.2,827.4 L1562.9,825.8 L1563.5,824.1 L1564.1,822.4 L1564.6,820.7 L1565.0,819.0 L1565.3,817.3 L1565.5,815.6 L1565.7,813.9 L1565.8,812.2 L1565.8,810.4 L1565.7,808.7 L1565.5,807.0 L1565.2,805.3 L1564.8,803.6 L1564.4,801.9 L1563.9,800.2 L1563.3,798.6 L1562.6,796.9 L1561.9,795.3 L1561.0,793.7 L1560.1,792.1 L1559.2,790.6 L1558.1,789.0 L1557.0,787.5 L1555.8,786.0 L1554.5,784.6 L1553.2,783.2 L1551.8,781.8 L1550.3,780.4 L1548.8,779.1 L1547.2,777.8 L1545.6,776.5 L1543.8,775.2 L1542.1,774.0 L1540.3,772.8 L1538.4,771.7 L1536.5,770.5 L1534.5,769.5Z" fill="url(#blueg)" />
<circle cx="1532.37" cy="773.13" r="4.25" fill="url(#blueg)"/>
<path d="M2278.7,945.7 L2280.5,946.8 L2282.2,947.9 L2283.8,949.1 L2285.3,950.3 L2286.8,951.4 L2288.3,952.6 L2289.6,953.8 L2290.9,955.1 L2292.2,956.3 L2293.4,957.5 L2294.5,958.8 L2295.5,960.0 L2296.5,961.3 L2297.4,962.5 L2298.3,963.7 L2299.1,965.0 L2299.9,966.2 L2300.5,967.5 L2301.1,968.7 L2301.7,970.0 L2302.2,971.2 L2302.6,972.4 L2303.0,973.7 L2303.3,974.9 L2303.5,976.1 L2303.7,977.4 L2303.8,978.6 L2303.8,979.8 L2303.8,981.0 L2303.7,982.3 L2303.6,983.5 L2303.4,984.7 L2303.2,985.9 L2302.9,987.2 L2302.5,988.4 L2302.1,989.6 L2301.6,990.8 L2301.0,992.1 L2300.4,993.3 L2299.7,994.5 L2299.0,995.7 L2298.1,996.9 L2297.3,998.2 L2296.3,999.4 L2295.3,1000.6 L2294.2,1001.8 L2293.1,1003.0 L2291.9,1004.1 L2290.6,1005.3 L2289.3,1006.4 L2287.9,1007.6 L2286.4,1008.7 L2284.9,1009.8 L2283.4,1010.9 L2281.7,1012.0 L2280.0,1013.0 L2278.3,1014.1 L2276.5,1015.1 L2274.6,1016.1 L2272.7,1017.0 L2270.7,1018.0 L2268.7,1018.9 L2266.7,1019.8 L2264.6,1020.7 L2262.4,1021.5 L2260.2,1022.3 L2258.0,1023.1 L2255.7,1023.8 L2253.4,1024.5 L2251.0,1025.2 L2248.7,1025.9 L2246.2,1026.5 L2243.8,1027.1 L2241.3,1027.7 L2238.8,1028.2 L2236.2,1028.7 L2233.7,1029.1 L2231.1,1029.6 L2228.4,1029.9 L2225.8,1030.3 L2223.2,1030.6 L2220.5,1030.9 L2217.8,1031.1 L2215.1,1031.3 L2212.4,1031.5 L2209.7,1031.6 L2207.0,1031.7 L2204.3,1031.8 L2201.5,1031.8 L2198.8,1031.8 L2196.1,1031.8 L2193.4,1031.7 L2190.6,1031.6 L2187.9,1031.4 L2185.2,1031.3 L2182.5,1031.1 L2179.8,1030.8 L2177.2,1030.6 L2174.5,1030.3 L2171.9,1029.9 L2169.2,1029.6 L2166.6,1029.2 L2164.1,1028.7 L2161.5,1028.2 L2159.0,1027.7 L2156.5,1027.2 L2154.0,1026.6 L2151.6,1026.0 L2149.2,1025.4 L2146.8,1024.7 L2144.5,1024.0 L2142.2,1023.2 L2139.9,1022.5 L2137.7,1021.7 L2135.6,1020.9 L2133.4,1020.0 L2131.4,1019.1 L2129.3,1018.2 L2127.4,1017.3 L2125.4,1016.3 L2123.5,1015.4 L2121.7,1014.4 L2120.0,1013.3 L2118.2,1012.3 L2116.6,1011.2 L2115.0,1010.1 L2113.4,1009.1 L2112.0,1007.9 L2110.6,1006.8 L2109.2,1005.7 L2107.9,1004.5 L2106.7,1003.3 L2105.5,1002.2 L2104.4,1001.0 L2103.4,999.8 L2102.4,998.6 L2101.5,997.4 L2100.7,996.2 L2099.9,995.0 L2099.2,993.7 L2098.5,992.5 L2098.0,991.3 L2097.4,990.1 L2097.0,988.9 L2096.6,987.7 L2096.2,986.5 L2096.0,985.3 L2095.8,984.0 L2095.6,982.8 L2095.5,981.6 L2095.5,980.4 L2095.5,979.2 L2095.6,978.0 L2095.7,976.8 L2095.9,975.6 L2096.2,974.4 L2096.5,973.1 L2096.9,971.9 L2097.4,970.7 L2097.9,969.5 L2098.4,968.2 L2099.1,967.0 L2099.8,965.8 L2100.6,964.5 L2101.4,963.3 L2102.3,962.1 L2103.3,960.9 L2104.3,959.6 L2105.4,958.4 L2106.6,957.2 L2107.8,956.0 L2109.1,954.9 L2110.4,953.7 L2111.9,952.5 L2113.3,951.4 L2114.9,950.3 L2116.5,949.2 L2118.1,948.1 L2119.9,947.0 L2121.6,945.9 L2123.5,944.9 L2125.3,943.9 L2127.3,942.9 L2129.3,942.0 L2131.3,941.0 L2133.4,940.1 L2135.5,939.2 L2137.7,938.4 L2139.9,937.6 L2142.2,936.8 L2144.5,936.0 L2146.8,935.3 L2149.2,934.6 L2151.6,933.9 L2154.1,933.2 L2156.6,932.6 L2159.1,932.0 L2161.6,931.5 L2164.2,931.0 L2166.8,930.5 L2169.4,930.1 L2172.0,929.7 L2174.7,929.3 L2177.4,929.0 L2180.0,928.7 L2182.7,928.4 L2185.5,928.2 L2188.2,928.0 L2190.9,927.8 L2193.7,927.7 L2196.4,927.6 L2199.2,927.6 L2201.9,927.5 L2204.7,927.4 L2207.4,927.4 L2210.2,927.4 L2212.9,927.4 L2215.6,927.5 L2218.4,927.6 L2221.1,927.8 L2223.8,928.0 L2226.5,928.2 L2229.2,928.5 L2231.9,928.8 L2234.5,929.1 L2237.1,929.4 L2239.8,929.8 L2242.4,930.1 L2244.9,930.5 L2247.5,930.9 L2250.0,931.4 L2252.5,931.9 L2255.0,932.5 L2257.4,933.0 L2259.8,933.7 L2262.2,934.3 L2264.5,935.0 L2266.8,935.7 L2269.1,936.5 L2271.3,937.2 L2271.4,937.0 L2269.3,935.8 L2267.2,934.7 L2265.0,933.7 L2262.8,932.6 L2260.5,931.6 L2258.2,930.6 L2255.8,929.7 L2253.4,928.7 L2251.0,927.8 L2248.5,927.0 L2246.0,926.1 L2243.4,925.3 L2240.9,924.5 L2238.2,923.8 L2235.6,923.1 L2232.9,922.5 L2230.2,922.0 L2227.4,921.5 L2224.7,921.0 L2221.9,920.5 L2219.1,920.1 L2216.3,919.8 L2213.4,919.5 L2210.6,919.2 L2207.7,918.9 L2204.9,918.7 L2202.0,918.5 L2199.1,918.4 L2196.3,918.4 L2193.4,918.4 L2190.5,918.5 L2187.7,918.7 L2184.8,918.8 L2182.0,919.0 L2179.1,919.2 L2176.3,919.5 L2173.5,919.8 L2170.7,920.2 L2167.9,920.6 L2165.2,921.0 L2162.4,921.5 L2159.7,922.0 L2157.0,922.5 L2154.4,923.1 L2151.7,923.7 L2149.1,924.3 L2146.5,925.0 L2144.0,925.7 L2141.5,926.5 L2139.0,927.3 L2136.6,928.1 L2134.2,929.0 L2131.8,929.9 L2129.5,930.8 L2127.2,931.7 L2125.0,932.7 L2122.8,933.7 L2120.7,934.8 L2118.6,935.9 L2116.5,937.0 L2114.6,938.1 L2112.6,939.3 L2110.7,940.5 L2108.9,941.7 L2107.1,943.0 L2105.4,944.3 L2103.8,945.6 L2102.2,946.9 L2100.6,948.3 L2099.1,949.7 L2097.7,951.1 L2096.4,952.6 L2095.1,954.0 L2093.9,955.5 L2092.7,957.1 L2091.6,958.6 L2090.6,960.2 L2089.7,961.8 L2088.8,963.4 L2088.0,965.0 L2087.3,966.7 L2086.7,968.3 L2086.1,970.0 L2085.7,971.7 L2085.3,973.4 L2084.9,975.2 L2084.7,976.9 L2084.6,978.6 L2084.5,980.4 L2084.5,982.1 L2084.7,983.9 L2084.9,985.6 L2085.1,987.3 L2085.5,989.1 L2086.0,990.8 L2086.5,992.5 L2087.1,994.2 L2087.8,995.8 L2088.5,997.5 L2089.4,999.1 L2090.3,1000.7 L2091.3,1002.3 L2092.4,1003.9 L2093.5,1005.4 L2094.7,1007.0 L2096.0,1008.5 L2097.3,1009.9 L2098.7,1011.4 L2100.1,1012.8 L2101.7,1014.2 L2103.3,1015.6 L2104.9,1016.9 L2106.6,1018.2 L2108.4,1019.5 L2110.2,1020.8 L2112.1,1022.0 L2114.0,1023.2 L2116.0,1024.4 L2118.0,1025.6 L2120.1,1026.7 L2122.2,1027.8 L2124.4,1028.8 L2126.6,1029.9 L2128.9,1030.9 L2131.2,1031.8 L2133.6,1032.7 L2136.0,1033.6 L2138.4,1034.5 L2140.9,1035.3 L2143.4,1036.1 L2145.9,1036.9 L2148.5,1037.6 L2151.1,1038.3 L2153.8,1038.9 L2156.4,1039.6 L2159.1,1040.1 L2161.8,1040.7 L2164.6,1041.2 L2167.4,1041.7 L2170.1,1042.1 L2173.0,1042.5 L2175.8,1042.8 L2178.6,1043.2 L2181.5,1043.4 L2184.3,1043.7 L2187.2,1043.9 L2190.1,1044.0 L2193.0,1044.1 L2195.9,1044.2 L2198.8,1044.2 L2201.7,1044.1 L2204.5,1044.1 L2207.4,1044.0 L2210.3,1043.8 L2213.2,1043.6 L2216.1,1043.4 L2218.9,1043.1 L2221.8,1042.8 L2224.6,1042.5 L2227.4,1042.1 L2230.2,1041.7 L2233.0,1041.3 L2235.7,1040.8 L2238.5,1040.2 L2241.2,1039.7 L2243.8,1039.1 L2246.5,1038.4 L2249.1,1037.8 L2251.7,1037.1 L2254.3,1036.3 L2256.8,1035.5 L2259.3,1034.7 L2261.7,1033.9 L2264.2,1033.0 L2266.5,1032.1 L2268.9,1031.1 L2271.1,1030.2 L2273.4,1029.1 L2275.6,1028.1 L2277.7,1027.0 L2279.8,1025.9 L2281.9,1024.8 L2283.9,1023.6 L2285.8,1022.4 L2287.7,1021.2 L2289.6,1020.0 L2291.4,1018.7 L2293.1,1017.4 L2294.7,1016.1 L2296.4,1014.7 L2297.9,1013.3 L2299.4,1011.9 L2300.8,1010.5 L2302.2,1009.0 L2303.5,1007.5 L2304.7,1006.0 L2305.9,1004.5 L2306.9,1003.0 L2308.0,1001.4 L2308.9,999.8 L2309.8,998.2 L2310.6,996.6 L2311.3,994.9 L2311.9,993.2 L2312.5,991.6 L2313.0,989.9 L2313.4,988.2 L2313.7,986.4 L2313.9,984.7 L2314.1,983.0 L2314.2,981.3 L2314.2,979.5 L2314.1,977.8 L2313.9,976.1 L2313.6,974.4 L2313.3,972.7 L2312.8,971.0 L2312.3,969.3 L2311.7,967.6 L2311.0,966.0 L2310.3,964.4 L2309.5,962.7 L2308.6,961.2 L2307.6,959.6 L2306.6,958.0 L2305.5,956.5 L2304.3,955.0 L2303.0,953.6 L2301.7,952.2 L2300.3,950.8 L2298.8,949.4 L2297.3,948.0 L2295.7,946.7 L2294.0,945.4 L2292.3,944.2 L2290.6,943.0 L2288.8,941.8 L2286.9,940.6 L2285.0,939.5 L2283.1,938.4Z" fill="url(#blueg)" />
<circle cx="2280.87" cy="942.02" r="4.25" fill="url(#blueg)"/>
<path d="M2102.6,941.7 L2099.1,940.8 L2095.2,939.9 L2091.0,938.8 L2086.5,937.8 L2081.7,936.6 L2076.7,935.4 L2071.3,934.1 L2065.7,932.7 L2059.9,931.3 L2053.9,929.9 L2047.6,928.4 L2041.1,927.0 L2034.4,925.5 L2027.5,924.0 L2020.5,922.5 L2013.4,920.9 L2006.1,919.3 L1998.6,917.7 L1991.1,916.1 L1983.5,914.4 L1975.8,912.7 L1968.0,911.0 L1960.2,909.3 L1952.3,907.6 L1944.4,905.9 L1936.5,904.1 L1928.6,902.4 L1920.7,900.7 L1912.9,899.0 L1905.0,897.4 L1897.2,895.7 L1889.5,894.1 L1881.9,892.5 L1874.3,891.0 L1866.9,889.4 L1859.6,887.9 L1852.4,886.4 L1845.4,884.9 L1838.5,883.4 L1831.8,882.0 L1825.1,880.6 L1818.3,879.2 L1811.3,877.7 L1804.3,876.2 L1797.2,874.7 L1789.9,873.1 L1782.6,871.6 L1775.3,870.1 L1767.8,868.5 L1760.4,867.0 L1752.9,865.4 L1745.3,863.8 L1737.8,862.2 L1730.3,860.7 L1722.8,859.1 L1715.3,857.5 L1707.9,856.0 L1700.5,854.4 L1693.2,852.9 L1685.9,851.4 L1678.8,849.9 L1671.7,848.4 L1664.7,846.9 L1657.9,845.5 L1651.2,844.1 L1644.6,842.8 L1638.2,841.6 L1631.9,840.3 L1625.8,839.2 L1619.9,838.0 L1614.2,836.9 L1608.7,835.8 L1603.4,834.8 L1598.4,833.8 L1593.6,833.0 L1589.0,832.5 L1584.6,832.1 L1580.6,831.6 L1576.8,831.2 L1573.4,830.9 L1572.8,833.3 L1576.1,834.4 L1579.7,835.5 L1583.6,836.8 L1587.8,838.1 L1592.2,839.6 L1596.9,840.8 L1601.9,841.9 L1607.2,843.1 L1612.6,844.4 L1618.3,845.7 L1624.1,847.0 L1630.2,848.4 L1636.4,849.9 L1642.8,851.3 L1649.3,852.8 L1656.0,854.3 L1662.9,855.8 L1669.8,857.3 L1676.9,858.8 L1684.0,860.3 L1691.3,861.8 L1698.6,863.4 L1706.0,865.0 L1713.4,866.6 L1720.9,868.2 L1728.4,869.8 L1735.9,871.4 L1743.4,873.0 L1750.9,874.6 L1758.4,876.2 L1765.9,877.7 L1773.3,879.3 L1780.7,880.9 L1788.0,882.4 L1795.2,883.9 L1802.4,885.4 L1809.4,886.8 L1816.4,888.2 L1823.2,889.6 L1829.9,891.0 L1836.6,892.3 L1843.5,893.7 L1850.6,895.2 L1857.8,896.6 L1865.1,898.1 L1872.6,899.6 L1880.1,901.1 L1887.8,902.7 L1895.5,904.2 L1903.3,905.8 L1911.2,907.4 L1919.1,908.9 L1927.0,910.4 L1935.0,911.9 L1942.9,913.4 L1950.8,914.9 L1958.8,916.4 L1966.6,917.9 L1974.4,919.3 L1982.2,920.8 L1989.9,922.2 L1997.4,923.7 L2004.9,925.1 L2012.2,926.4 L2019.4,927.8 L2026.5,929.1 L2033.4,930.4 L2040.1,931.7 L2046.7,932.9 L2053.0,934.0 L2059.2,935.0 L2065.1,936.0 L2070.8,936.9 L2076.2,937.8 L2081.3,938.6 L2086.2,939.4 L2090.8,940.2 L2095.0,940.9 L2099.0,941.5 L2102.6,942.1Z" fill="url(#blueg)" />
<path d="M1589.2,811.5 L1557.8,829.0 L1560.4,833.2 L1589.8,812.5Z" fill="url(#blueg)" />
<path d="M1557.4,832.9 L1580.5,854.2 L1583.5,851.0 L1560.8,829.3Z" fill="url(#blueg)" />
<circle cx="1582.00" cy="852.60" r="2.6" fill="url(#blueg)"/>
</svg></body></html>
